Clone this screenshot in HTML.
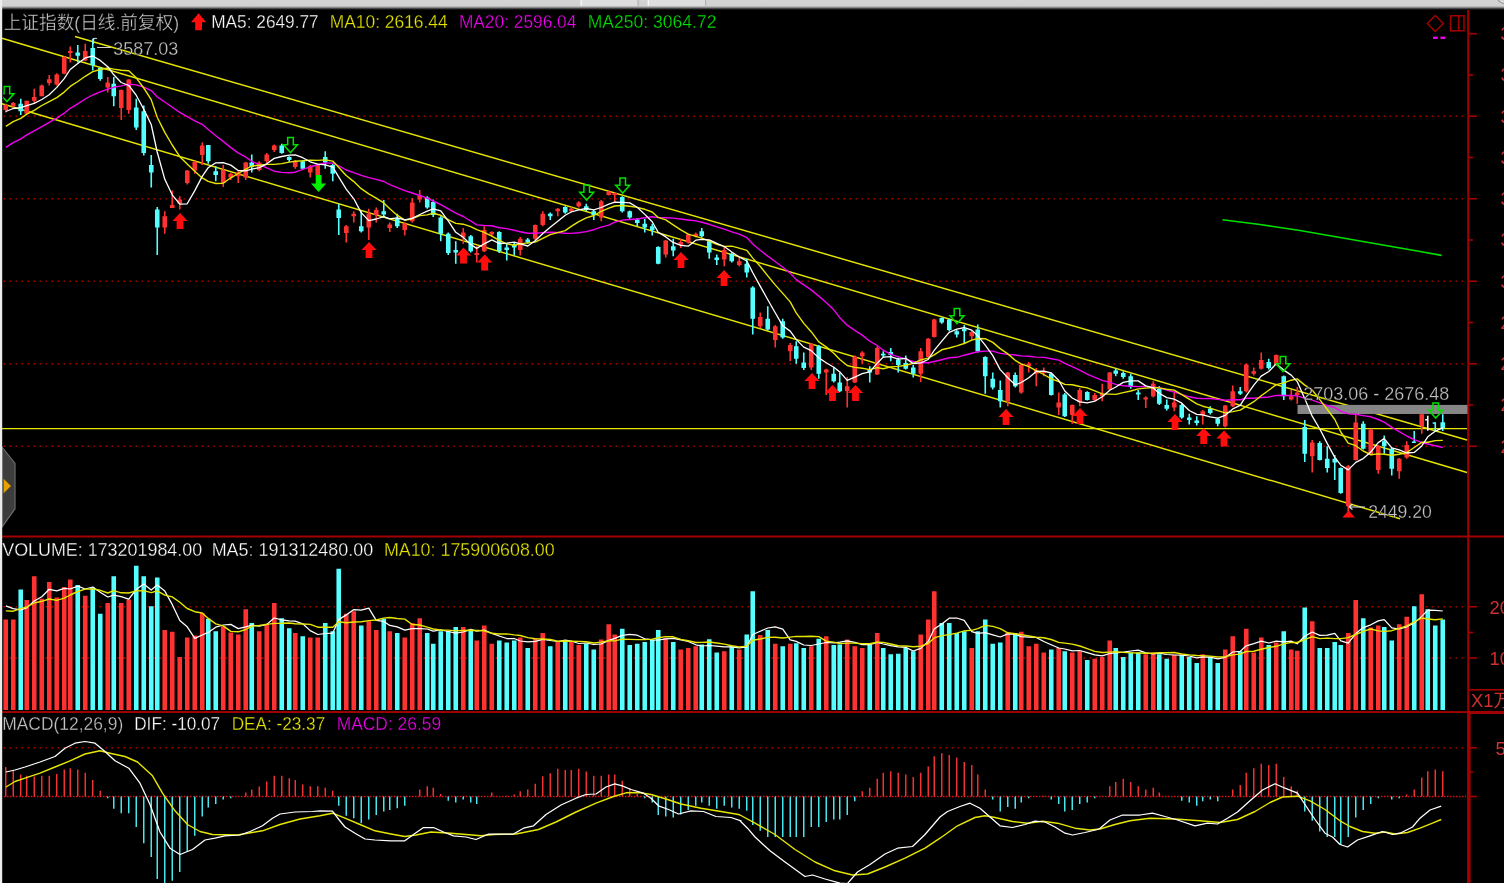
<!DOCTYPE html>
<html lang="zh"><head><meta charset="utf-8"><title>上证指数</title>
<style>html,body{margin:0;padding:0;background:#000;overflow:hidden}svg text{white-space:pre}</style></head>
<body>
<svg width="1504" height="883" viewBox="0 0 1504 883" style="display:block">
<defs><linearGradient id="tg" x1="0" y1="0" x2="0" y2="1"><stop offset="0" stop-color="#d4d4d4"/><stop offset="0.6" stop-color="#d0d0d0"/><stop offset="0.72" stop-color="#9a9a9a"/><stop offset="0.9" stop-color="#2a2a2a"/><stop offset="1" stop-color="#000"/></linearGradient>
<clipPath id="cm"><rect x="2" y="8" width="1465" height="528"/></clipPath>
<clipPath id="cd"><rect x="2" y="712" width="1465" height="171"/></clipPath>
<filter id="bl" filterUnits="userSpaceOnUse" x="-10" y="-10" width="1524" height="903"><feGaussianBlur stdDeviation="0.4"/></filter>
</defs>
<g filter="url(#bl)">
<rect x="-10" y="-10" width="1524" height="903" fill="#000"/>
<line x1="3.5" y1="116.25" x2="1464" y2="116.25" stroke="#aa0000" stroke-width="1.6" stroke-dasharray="1.6 4.4"/>
<line x1="3.5" y1="198.75" x2="1464" y2="198.75" stroke="#aa0000" stroke-width="1.6" stroke-dasharray="1.6 4.4"/>
<line x1="3.5" y1="281.25" x2="1464" y2="281.25" stroke="#aa0000" stroke-width="1.6" stroke-dasharray="1.6 4.4"/>
<line x1="3.5" y1="363.75" x2="1464" y2="363.75" stroke="#aa0000" stroke-width="1.6" stroke-dasharray="1.6 4.4"/>
<line x1="3.5" y1="446.25" x2="1464" y2="446.25" stroke="#aa0000" stroke-width="1.6" stroke-dasharray="1.6 4.4"/>
<line x1="3.5" y1="606.75" x2="1464" y2="606.75" stroke="#aa0000" stroke-width="1.6" stroke-dasharray="1.6 4.4"/>
<line x1="3.5" y1="658" x2="1464" y2="658" stroke="#aa0000" stroke-width="1.6" stroke-dasharray="1.6 4.4"/>
<line x1="3.5" y1="747.75" x2="1464" y2="747.75" stroke="#aa0000" stroke-width="1.6" stroke-dasharray="1.6 4.4"/>
<line x1="4" y1="796.5" x2="1466" y2="796.5" stroke="#d01818" stroke-width="1.5" stroke-dasharray="1.5 1.5"/>
<rect x="1467.2" y="8" width="2" height="885" fill="#a20000"/>
<rect x="2" y="535.5" width="1512" height="2" fill="#a20000"/>
<rect x="2" y="711.1" width="1512" height="1.9" fill="#a20000"/>
<rect x="1469" y="711.1" width="45" height="2.9" fill="#a20000"/>
<rect x="1467.2" y="712" width="3.4" height="181" fill="#a20000"/>
<rect x="1469" y="32.95" width="8" height="1.6" fill="#a20000"/>
<rect x="1469" y="74.2" width="4" height="1.6" fill="#a20000"/>
<rect x="1469" y="115.45" width="8" height="1.6" fill="#a20000"/>
<rect x="1469" y="156.7" width="4" height="1.6" fill="#a20000"/>
<rect x="1469" y="197.95" width="8" height="1.6" fill="#a20000"/>
<rect x="1469" y="239.2" width="4" height="1.6" fill="#a20000"/>
<rect x="1469" y="280.45" width="8" height="1.6" fill="#a20000"/>
<rect x="1469" y="321.7" width="4" height="1.6" fill="#a20000"/>
<rect x="1469" y="362.95" width="8" height="1.6" fill="#a20000"/>
<rect x="1469" y="404.2" width="4" height="1.6" fill="#a20000"/>
<rect x="1469" y="445.45" width="8" height="1.6" fill="#a20000"/>
<rect x="1469" y="605.95" width="8" height="1.6" fill="#a20000"/>
<rect x="1469" y="631.7" width="4" height="1.6" fill="#a20000"/>
<rect x="1469" y="657.2" width="8" height="1.6" fill="#a20000"/>
<rect x="1469" y="746.95" width="8" height="1.6" fill="#a20000"/>
<rect x="1469" y="771.2" width="4" height="1.6" fill="#a20000"/>
<rect x="1469" y="795.7" width="8" height="1.6" fill="#a20000"/>
<rect x="1469" y="689" width="45" height="1.6" fill="#a20000"/>
<text x="1471" y="706.8" font-family="Liberation Sans, Noto Sans CJK SC, sans-serif" font-size="18.4" fill="#cc3030">X1万</text>
<text x="1489.5" y="613.5" font-family="Liberation Sans, Noto Sans CJK SC, sans-serif" font-size="18.4" fill="#cc3030">20</text>
<text x="1489.5" y="664.5" font-family="Liberation Sans, Noto Sans CJK SC, sans-serif" font-size="18.4" fill="#cc3030">10</text>
<text x="1495.5" y="754.5" font-family="Liberation Sans, Noto Sans CJK SC, sans-serif" font-size="18.4" fill="#cc3030">50</text>
<text x="1500.5" y="40.05" font-family="Liberation Sans, Noto Sans CJK SC, sans-serif" font-size="18.4" fill="#cc3030">3600</text>
<text x="1500.5" y="81.3" font-family="Liberation Sans, Noto Sans CJK SC, sans-serif" font-size="18.4" fill="#cc3030">3500</text>
<text x="1500.5" y="122.55" font-family="Liberation Sans, Noto Sans CJK SC, sans-serif" font-size="18.4" fill="#cc3030">3400</text>
<text x="1500.5" y="163.8" font-family="Liberation Sans, Noto Sans CJK SC, sans-serif" font-size="18.4" fill="#cc3030">3300</text>
<text x="1500.5" y="205.05" font-family="Liberation Sans, Noto Sans CJK SC, sans-serif" font-size="18.4" fill="#cc3030">3200</text>
<text x="1500.5" y="246.3" font-family="Liberation Sans, Noto Sans CJK SC, sans-serif" font-size="18.4" fill="#cc3030">3100</text>
<text x="1500.5" y="287.55" font-family="Liberation Sans, Noto Sans CJK SC, sans-serif" font-size="18.4" fill="#cc3030">3000</text>
<text x="1500.5" y="328.8" font-family="Liberation Sans, Noto Sans CJK SC, sans-serif" font-size="18.4" fill="#cc3030">2900</text>
<text x="1500.5" y="370.05" font-family="Liberation Sans, Noto Sans CJK SC, sans-serif" font-size="18.4" fill="#cc3030">2800</text>
<text x="1500.5" y="411.3" font-family="Liberation Sans, Noto Sans CJK SC, sans-serif" font-size="18.4" fill="#cc3030">2700</text>
<text x="1500.5" y="452.55" font-family="Liberation Sans, Noto Sans CJK SC, sans-serif" font-size="18.4" fill="#cc3030">2600</text>
<line x1="75" y1="36.5" x2="1467" y2="440" stroke="#e6e600" stroke-width="1.45"/>
<line x1="2" y1="38.3" x2="1467" y2="472.5" stroke="#e6e600" stroke-width="1.45"/>
<line x1="2" y1="103.8" x2="1400" y2="518.8" stroke="#e6e600" stroke-width="1.45"/>
<line x1="2" y1="428.6" x2="1467" y2="428.6" stroke="#e6e600" stroke-width="1.45"/>
<rect x="1297.5" y="404.9" width="170" height="9.1" fill="#868686"/>
<g clip-path="url(#cm)"><rect x="4.95" y="103.75" width="1.6" height="8.75" fill="#ff3232"/><rect x="3.45" y="105.00" width="4.6" height="5.00" fill="#ff3232"/><rect x="12.45" y="102.00" width="1.6" height="5.50" fill="#ff3232"/><rect x="10.95" y="103.00" width="4.6" height="3.25" fill="#ff3232"/><rect x="19.95" y="98.75" width="1.6" height="16.25" fill="#54ffff"/><rect x="18.45" y="103.75" width="4.6" height="7.50" fill="#54ffff"/><rect x="25.95" y="100.75" width="1.6" height="13.75" fill="#ff3232"/><rect x="24.45" y="100.75" width="4.6" height="13.00" fill="#ff3232"/><rect x="33.45" y="88.75" width="1.6" height="15.00" fill="#ff3232"/><rect x="31.95" y="97.00" width="4.6" height="3.75" fill="#ff3232"/><rect x="40.95" y="84.50" width="1.6" height="11.75" fill="#ff3232"/><rect x="39.45" y="85.50" width="4.6" height="10.75" fill="#ff3232"/><rect x="48.45" y="75.00" width="1.6" height="10.50" fill="#ff3232"/><rect x="46.95" y="79.25" width="4.6" height="3.75" fill="#ff3232"/><rect x="55.95" y="73.25" width="1.6" height="12.25" fill="#ff3232"/><rect x="54.45" y="74.50" width="4.6" height="10.00" fill="#ff3232"/><rect x="63.45" y="56.25" width="1.6" height="18.00" fill="#ff3232"/><rect x="61.95" y="57.00" width="4.6" height="16.75" fill="#ff3232"/><rect x="69.45" y="46.50" width="1.6" height="16.00" fill="#ff3232"/><rect x="67.95" y="51.00" width="4.6" height="2.00" fill="#ff3232"/><rect x="76.95" y="45.00" width="1.6" height="17.50" fill="#54ffff"/><rect x="75.45" y="52.50" width="4.6" height="3.25" fill="#54ffff"/><rect x="84.45" y="43.75" width="1.6" height="17.50" fill="#ff3232"/><rect x="82.95" y="51.00" width="4.6" height="9.50" fill="#ff3232"/><rect x="91.95" y="38.75" width="1.6" height="31.75" fill="#54ffff"/><rect x="90.45" y="48.00" width="4.6" height="17.00" fill="#54ffff"/><rect x="99.45" y="67.50" width="1.6" height="13.25" fill="#54ffff"/><rect x="97.95" y="68.00" width="4.6" height="11.00" fill="#54ffff"/><rect x="106.95" y="77.00" width="1.6" height="15.50" fill="#ff3232"/><rect x="105.45" y="82.50" width="4.6" height="5.00" fill="#ff3232"/><rect x="112.95" y="77.00" width="1.6" height="29.25" fill="#54ffff"/><rect x="111.45" y="83.75" width="4.6" height="12.50" fill="#54ffff"/><rect x="120.45" y="89.50" width="1.6" height="30.50" fill="#ff3232"/><rect x="118.95" y="90.00" width="4.6" height="18.00" fill="#ff3232"/><rect x="127.95" y="79.25" width="1.6" height="34.50" fill="#ff3232"/><rect x="126.45" y="79.50" width="4.6" height="30.50" fill="#ff3232"/><rect x="135.45" y="98.75" width="1.6" height="31.25" fill="#54ffff"/><rect x="133.95" y="107.50" width="4.6" height="20.00" fill="#54ffff"/><rect x="142.95" y="105.50" width="1.6" height="50.00" fill="#54ffff"/><rect x="141.45" y="111.25" width="4.6" height="41.75" fill="#54ffff"/><rect x="150.45" y="155.00" width="1.6" height="32.50" fill="#54ffff"/><rect x="148.95" y="165.00" width="4.6" height="7.50" fill="#54ffff"/><rect x="156.45" y="207.00" width="1.6" height="48.00" fill="#54ffff"/><rect x="154.95" y="209.50" width="4.6" height="18.00" fill="#54ffff"/><rect x="163.95" y="211.25" width="1.6" height="22.50" fill="#ff3232"/><rect x="162.45" y="216.25" width="4.6" height="11.25" fill="#ff3232"/><rect x="171.45" y="190.50" width="1.6" height="17.50" fill="#ff3232"/><rect x="169.95" y="205.00" width="4.6" height="3.00" fill="#ff3232"/><rect x="178.95" y="196.25" width="1.6" height="13.25" fill="#ff3232"/><rect x="177.45" y="199.50" width="4.6" height="4.25" fill="#ff3232"/><rect x="186.45" y="170.00" width="1.6" height="14.50" fill="#ff3232"/><rect x="184.95" y="170.50" width="4.6" height="12.50" fill="#ff3232"/><rect x="193.95" y="161.25" width="1.6" height="12.50" fill="#ff3232"/><rect x="192.45" y="161.75" width="4.6" height="8.75" fill="#ff3232"/><rect x="201.45" y="142.50" width="1.6" height="22.50" fill="#ff3232"/><rect x="199.95" y="145.50" width="4.6" height="9.50" fill="#ff3232"/><rect x="207.45" y="145.00" width="1.6" height="18.75" fill="#54ffff"/><rect x="205.95" y="145.00" width="4.6" height="16.25" fill="#54ffff"/><rect x="214.95" y="166.25" width="1.6" height="15.00" fill="#54ffff"/><rect x="213.45" y="171.25" width="4.6" height="3.75" fill="#54ffff"/><rect x="222.45" y="165.00" width="1.6" height="22.00" fill="#ff3232"/><rect x="220.95" y="170.00" width="4.6" height="13.00" fill="#ff3232"/><rect x="229.95" y="173.00" width="1.6" height="7.00" fill="#ff3232"/><rect x="228.45" y="173.75" width="4.6" height="3.75" fill="#ff3232"/><rect x="237.45" y="171.25" width="1.6" height="11.75" fill="#ff3232"/><rect x="235.95" y="172.50" width="4.6" height="3.75" fill="#ff3232"/><rect x="244.95" y="162.00" width="1.6" height="18.00" fill="#ff3232"/><rect x="243.45" y="162.50" width="4.6" height="15.00" fill="#ff3232"/><rect x="250.95" y="154.50" width="1.6" height="18.00" fill="#54ffff"/><rect x="249.45" y="162.50" width="4.6" height="4.50" fill="#54ffff"/><rect x="258.45" y="161.25" width="1.6" height="10.00" fill="#ff3232"/><rect x="256.95" y="162.50" width="4.6" height="7.50" fill="#ff3232"/><rect x="265.95" y="153.00" width="1.6" height="10.75" fill="#ff3232"/><rect x="264.45" y="154.50" width="4.6" height="6.75" fill="#ff3232"/><rect x="273.45" y="144.50" width="1.6" height="7.50" fill="#ff3232"/><rect x="271.95" y="145.50" width="4.6" height="4.50" fill="#ff3232"/><rect x="280.95" y="143.75" width="1.6" height="10.00" fill="#54ffff"/><rect x="279.45" y="145.50" width="4.6" height="7.50" fill="#54ffff"/><rect x="288.45" y="156.25" width="1.6" height="5.75" fill="#54ffff"/><rect x="286.95" y="157.00" width="4.6" height="3.00" fill="#54ffff"/><rect x="294.45" y="160.00" width="1.6" height="8.75" fill="#ff3232"/><rect x="292.95" y="161.25" width="4.6" height="5.75" fill="#ff3232"/><rect x="301.95" y="160.00" width="1.6" height="10.00" fill="#54ffff"/><rect x="300.45" y="161.25" width="4.6" height="7.50" fill="#54ffff"/><rect x="309.45" y="165.00" width="1.6" height="12.50" fill="#ff3232"/><rect x="307.95" y="166.25" width="4.6" height="6.25" fill="#ff3232"/><rect x="316.95" y="163.75" width="1.6" height="13.75" fill="#ff3232"/><rect x="315.45" y="165.00" width="4.6" height="10.00" fill="#ff3232"/><rect x="324.45" y="151.25" width="1.6" height="17.50" fill="#54ffff"/><rect x="322.95" y="157.00" width="4.6" height="5.50" fill="#54ffff"/><rect x="331.95" y="163.75" width="1.6" height="17.50" fill="#54ffff"/><rect x="330.45" y="165.00" width="4.6" height="8.75" fill="#54ffff"/><rect x="337.95" y="203.75" width="1.6" height="31.25" fill="#54ffff"/><rect x="336.45" y="209.50" width="4.6" height="8.50" fill="#54ffff"/><rect x="345.45" y="225.00" width="1.6" height="17.50" fill="#ff3232"/><rect x="343.95" y="226.25" width="4.6" height="6.75" fill="#ff3232"/><rect x="352.95" y="211.25" width="1.6" height="11.25" fill="#ff3232"/><rect x="351.45" y="213.75" width="4.6" height="2.50" fill="#ff3232"/><rect x="360.45" y="211.25" width="1.6" height="21.25" fill="#54ffff"/><rect x="358.95" y="226.25" width="4.6" height="5.00" fill="#54ffff"/><rect x="367.95" y="208.75" width="1.6" height="31.25" fill="#ff3232"/><rect x="366.45" y="213.75" width="4.6" height="13.75" fill="#ff3232"/><rect x="375.45" y="207.50" width="1.6" height="15.00" fill="#ff3232"/><rect x="373.95" y="210.00" width="4.6" height="5.00" fill="#ff3232"/><rect x="382.95" y="200.00" width="1.6" height="16.25" fill="#54ffff"/><rect x="381.45" y="211.25" width="4.6" height="3.25" fill="#54ffff"/><rect x="388.95" y="222.50" width="1.6" height="9.50" fill="#ff3232"/><rect x="387.45" y="224.50" width="4.6" height="3.50" fill="#ff3232"/><rect x="396.45" y="213.75" width="1.6" height="14.25" fill="#54ffff"/><rect x="394.95" y="218.75" width="4.6" height="7.50" fill="#54ffff"/><rect x="403.95" y="222.50" width="1.6" height="13.00" fill="#ff3232"/><rect x="402.45" y="223.75" width="4.6" height="6.25" fill="#ff3232"/><rect x="411.45" y="198.00" width="1.6" height="24.50" fill="#ff3232"/><rect x="409.95" y="202.50" width="4.6" height="18.75" fill="#ff3232"/><rect x="418.95" y="190.00" width="1.6" height="12.50" fill="#ff3232"/><rect x="417.45" y="195.50" width="4.6" height="4.00" fill="#ff3232"/><rect x="426.45" y="196.25" width="1.6" height="12.50" fill="#54ffff"/><rect x="424.95" y="197.50" width="4.6" height="10.00" fill="#54ffff"/><rect x="432.45" y="199.50" width="1.6" height="17.50" fill="#54ffff"/><rect x="430.95" y="202.00" width="4.6" height="13.00" fill="#54ffff"/><rect x="439.95" y="216.25" width="1.6" height="25.00" fill="#54ffff"/><rect x="438.45" y="217.50" width="4.6" height="16.25" fill="#54ffff"/><rect x="447.45" y="232.50" width="1.6" height="22.50" fill="#54ffff"/><rect x="445.95" y="233.75" width="4.6" height="19.25" fill="#54ffff"/><rect x="454.95" y="241.25" width="1.6" height="22.50" fill="#54ffff"/><rect x="453.45" y="250.00" width="4.6" height="2.50" fill="#54ffff"/><rect x="462.45" y="228.00" width="1.6" height="15.75" fill="#ff3232"/><rect x="460.95" y="232.50" width="4.6" height="5.00" fill="#ff3232"/><rect x="469.95" y="235.00" width="1.6" height="17.50" fill="#54ffff"/><rect x="468.45" y="236.25" width="4.6" height="15.00" fill="#54ffff"/><rect x="475.95" y="246.25" width="1.6" height="16.25" fill="#ff3232"/><rect x="474.45" y="253.00" width="4.6" height="2.00" fill="#ff3232"/><rect x="483.45" y="226.25" width="1.6" height="25.75" fill="#ff3232"/><rect x="481.95" y="230.00" width="4.6" height="21.25" fill="#ff3232"/><rect x="490.95" y="231.25" width="1.6" height="5.00" fill="#ff3232"/><rect x="489.45" y="232.00" width="4.6" height="2.50" fill="#ff3232"/><rect x="498.45" y="231.25" width="1.6" height="21.75" fill="#54ffff"/><rect x="496.95" y="232.00" width="4.6" height="19.25" fill="#54ffff"/><rect x="505.95" y="243.75" width="1.6" height="16.75" fill="#54ffff"/><rect x="504.45" y="247.50" width="4.6" height="2.50" fill="#54ffff"/><rect x="513.45" y="242.50" width="1.6" height="13.00" fill="#54ffff"/><rect x="511.95" y="244.50" width="4.6" height="3.00" fill="#54ffff"/><rect x="519.45" y="237.00" width="1.6" height="18.50" fill="#ff3232"/><rect x="517.95" y="238.75" width="4.6" height="11.25" fill="#ff3232"/><rect x="526.95" y="238.00" width="1.6" height="5.75" fill="#54ffff"/><rect x="525.45" y="239.50" width="4.6" height="3.00" fill="#54ffff"/><rect x="534.45" y="224.50" width="1.6" height="15.50" fill="#ff3232"/><rect x="532.95" y="225.00" width="4.6" height="13.75" fill="#ff3232"/><rect x="541.95" y="211.25" width="1.6" height="15.00" fill="#ff3232"/><rect x="540.45" y="213.75" width="4.6" height="11.25" fill="#ff3232"/><rect x="549.45" y="212.50" width="1.6" height="7.50" fill="#54ffff"/><rect x="547.95" y="213.75" width="4.6" height="2.50" fill="#54ffff"/><rect x="556.95" y="208.00" width="1.6" height="8.25" fill="#ff3232"/><rect x="555.45" y="208.75" width="4.6" height="2.50" fill="#ff3232"/><rect x="564.45" y="206.25" width="1.6" height="7.50" fill="#54ffff"/><rect x="562.95" y="207.00" width="4.6" height="5.50" fill="#54ffff"/><rect x="570.45" y="207.00" width="1.6" height="5.50" fill="#ff3232"/><rect x="568.95" y="208.75" width="4.6" height="2.50" fill="#ff3232"/><rect x="577.95" y="201.25" width="1.6" height="6.25" fill="#ff3232"/><rect x="576.45" y="202.50" width="4.6" height="3.75" fill="#ff3232"/><rect x="585.45" y="203.75" width="1.6" height="7.50" fill="#54ffff"/><rect x="583.95" y="206.25" width="4.6" height="3.75" fill="#54ffff"/><rect x="592.95" y="210.00" width="1.6" height="10.00" fill="#54ffff"/><rect x="591.45" y="211.25" width="4.6" height="3.75" fill="#54ffff"/><rect x="600.45" y="200.00" width="1.6" height="21.25" fill="#ff3232"/><rect x="598.95" y="201.25" width="4.6" height="16.25" fill="#ff3232"/><rect x="607.95" y="190.75" width="1.6" height="4.75" fill="#ff3232"/><rect x="606.45" y="191.75" width="4.6" height="3.25" fill="#ff3232"/><rect x="613.95" y="192.50" width="1.6" height="10.00" fill="#ff3232"/><rect x="612.45" y="193.00" width="4.6" height="2.00" fill="#ff3232"/><rect x="621.45" y="196.25" width="1.6" height="16.25" fill="#54ffff"/><rect x="619.95" y="197.00" width="4.6" height="14.25" fill="#54ffff"/><rect x="628.95" y="210.50" width="1.6" height="8.25" fill="#54ffff"/><rect x="627.45" y="211.25" width="4.6" height="6.25" fill="#54ffff"/><rect x="636.45" y="218.00" width="1.6" height="8.25" fill="#54ffff"/><rect x="634.95" y="219.50" width="4.6" height="3.50" fill="#54ffff"/><rect x="643.95" y="218.75" width="1.6" height="13.75" fill="#54ffff"/><rect x="642.45" y="223.75" width="4.6" height="3.75" fill="#54ffff"/><rect x="651.45" y="223.75" width="1.6" height="11.75" fill="#54ffff"/><rect x="649.95" y="226.25" width="4.6" height="3.75" fill="#54ffff"/><rect x="657.45" y="246.25" width="1.6" height="18.00" fill="#54ffff"/><rect x="655.95" y="247.00" width="4.6" height="16.75" fill="#54ffff"/><rect x="664.95" y="240.00" width="1.6" height="17.50" fill="#ff3232"/><rect x="663.45" y="240.50" width="4.6" height="14.00" fill="#ff3232"/><rect x="672.45" y="238.75" width="1.6" height="17.50" fill="#54ffff"/><rect x="670.95" y="246.25" width="4.6" height="4.25" fill="#54ffff"/><rect x="679.95" y="238.75" width="1.6" height="9.25" fill="#ff3232"/><rect x="678.45" y="242.00" width="4.6" height="3.00" fill="#ff3232"/><rect x="687.45" y="233.75" width="1.6" height="10.00" fill="#ff3232"/><rect x="685.95" y="234.50" width="4.6" height="8.00" fill="#ff3232"/><rect x="694.95" y="232.50" width="1.6" height="5.00" fill="#ff3232"/><rect x="693.45" y="233.75" width="4.6" height="2.50" fill="#ff3232"/><rect x="700.95" y="228.00" width="1.6" height="9.50" fill="#54ffff"/><rect x="699.45" y="231.25" width="4.6" height="5.00" fill="#54ffff"/><rect x="708.45" y="240.00" width="1.6" height="18.75" fill="#54ffff"/><rect x="706.95" y="241.25" width="4.6" height="11.25" fill="#54ffff"/><rect x="715.95" y="254.50" width="1.6" height="10.50" fill="#54ffff"/><rect x="714.45" y="257.50" width="4.6" height="2.50" fill="#54ffff"/><rect x="723.45" y="246.25" width="1.6" height="20.00" fill="#ff3232"/><rect x="721.95" y="250.00" width="4.6" height="9.50" fill="#ff3232"/><rect x="730.95" y="252.50" width="1.6" height="10.00" fill="#54ffff"/><rect x="729.45" y="253.75" width="4.6" height="7.50" fill="#54ffff"/><rect x="738.45" y="257.50" width="1.6" height="8.75" fill="#ff3232"/><rect x="736.95" y="261.25" width="4.6" height="3.75" fill="#ff3232"/><rect x="745.95" y="258.75" width="1.6" height="18.75" fill="#54ffff"/><rect x="744.45" y="263.75" width="4.6" height="8.75" fill="#54ffff"/><rect x="751.95" y="286.25" width="1.6" height="48.25" fill="#54ffff"/><rect x="750.45" y="287.50" width="4.6" height="31.25" fill="#54ffff"/><rect x="759.45" y="312.50" width="1.6" height="15.50" fill="#ff3232"/><rect x="757.95" y="317.00" width="4.6" height="9.25" fill="#ff3232"/><rect x="766.95" y="306.25" width="1.6" height="24.25" fill="#54ffff"/><rect x="765.45" y="318.75" width="4.6" height="10.75" fill="#54ffff"/><rect x="774.45" y="325.00" width="1.6" height="22.50" fill="#ff3232"/><rect x="772.95" y="326.25" width="4.6" height="13.75" fill="#ff3232"/><rect x="781.95" y="318.75" width="1.6" height="20.00" fill="#54ffff"/><rect x="780.45" y="321.25" width="4.6" height="16.25" fill="#54ffff"/><rect x="789.45" y="343.00" width="1.6" height="18.25" fill="#ff3232"/><rect x="787.95" y="345.00" width="4.6" height="6.25" fill="#ff3232"/><rect x="795.45" y="341.25" width="1.6" height="22.50" fill="#54ffff"/><rect x="793.95" y="346.25" width="4.6" height="12.50" fill="#54ffff"/><rect x="802.95" y="352.50" width="1.6" height="17.50" fill="#54ffff"/><rect x="801.45" y="362.50" width="4.6" height="5.50" fill="#54ffff"/><rect x="810.45" y="343.00" width="1.6" height="27.00" fill="#ff3232"/><rect x="808.95" y="343.75" width="4.6" height="23.75" fill="#ff3232"/><rect x="817.95" y="345.00" width="1.6" height="33.75" fill="#54ffff"/><rect x="816.45" y="346.25" width="4.6" height="27.50" fill="#54ffff"/><rect x="825.45" y="368.75" width="1.6" height="26.25" fill="#ff3232"/><rect x="823.95" y="369.50" width="4.6" height="3.00" fill="#ff3232"/><rect x="832.95" y="367.00" width="1.6" height="15.50" fill="#54ffff"/><rect x="831.45" y="373.75" width="4.6" height="7.50" fill="#54ffff"/><rect x="838.95" y="372.50" width="1.6" height="19.50" fill="#54ffff"/><rect x="837.45" y="382.50" width="4.6" height="8.75" fill="#54ffff"/><rect x="846.45" y="377.00" width="1.6" height="30.50" fill="#ff3232"/><rect x="844.95" y="386.25" width="4.6" height="5.00" fill="#ff3232"/><rect x="853.95" y="355.50" width="1.6" height="27.50" fill="#ff3232"/><rect x="852.45" y="357.00" width="4.6" height="25.50" fill="#ff3232"/><rect x="861.45" y="351.25" width="1.6" height="12.50" fill="#ff3232"/><rect x="859.95" y="352.50" width="4.6" height="3.75" fill="#ff3232"/><rect x="868.95" y="366.25" width="1.6" height="16.25" fill="#54ffff"/><rect x="867.45" y="370.00" width="4.6" height="2.50" fill="#54ffff"/><rect x="876.45" y="346.25" width="1.6" height="28.75" fill="#ff3232"/><rect x="874.95" y="348.00" width="4.6" height="26.50" fill="#ff3232"/><rect x="882.45" y="351.25" width="1.6" height="6.25" fill="#54ffff"/><rect x="880.95" y="353.75" width="4.6" height="1.75" fill="#54ffff"/><rect x="889.95" y="348.00" width="1.6" height="13.25" fill="#54ffff"/><rect x="888.45" y="352.00" width="4.6" height="3.00" fill="#54ffff"/><rect x="897.45" y="357.50" width="1.6" height="15.00" fill="#54ffff"/><rect x="895.95" y="359.50" width="4.6" height="5.50" fill="#54ffff"/><rect x="904.95" y="355.50" width="1.6" height="14.00" fill="#54ffff"/><rect x="903.45" y="363.00" width="4.6" height="5.75" fill="#54ffff"/><rect x="912.45" y="365.00" width="1.6" height="12.50" fill="#54ffff"/><rect x="910.95" y="367.50" width="4.6" height="6.25" fill="#54ffff"/><rect x="919.95" y="348.00" width="1.6" height="34.00" fill="#ff3232"/><rect x="918.45" y="351.25" width="4.6" height="22.50" fill="#ff3232"/><rect x="927.45" y="338.00" width="1.6" height="19.50" fill="#ff3232"/><rect x="925.95" y="338.75" width="4.6" height="18.25" fill="#ff3232"/><rect x="933.45" y="318.75" width="1.6" height="18.75" fill="#ff3232"/><rect x="931.95" y="319.50" width="4.6" height="17.50" fill="#ff3232"/><rect x="940.95" y="317.50" width="1.6" height="6.25" fill="#54ffff"/><rect x="939.45" y="318.00" width="4.6" height="4.50" fill="#54ffff"/><rect x="948.45" y="318.75" width="1.6" height="12.50" fill="#54ffff"/><rect x="946.95" y="319.50" width="4.6" height="10.50" fill="#54ffff"/><rect x="955.95" y="330.00" width="1.6" height="7.50" fill="#54ffff"/><rect x="954.45" y="331.25" width="4.6" height="3.25" fill="#54ffff"/><rect x="963.45" y="325.00" width="1.6" height="18.00" fill="#54ffff"/><rect x="961.95" y="328.75" width="4.6" height="2.50" fill="#54ffff"/><rect x="970.95" y="330.50" width="1.6" height="9.50" fill="#ff3232"/><rect x="969.45" y="332.00" width="4.6" height="4.25" fill="#ff3232"/><rect x="976.95" y="324.50" width="1.6" height="28.00" fill="#54ffff"/><rect x="975.45" y="329.50" width="4.6" height="21.75" fill="#54ffff"/><rect x="984.45" y="356.25" width="1.6" height="37.50" fill="#54ffff"/><rect x="982.95" y="357.00" width="4.6" height="19.25" fill="#54ffff"/><rect x="991.95" y="372.50" width="1.6" height="17.00" fill="#54ffff"/><rect x="990.45" y="378.75" width="4.6" height="8.75" fill="#54ffff"/><rect x="999.45" y="380.50" width="1.6" height="27.00" fill="#54ffff"/><rect x="997.95" y="390.00" width="4.6" height="11.25" fill="#54ffff"/><rect x="1006.95" y="372.00" width="1.6" height="34.25" fill="#ff3232"/><rect x="1005.45" y="372.50" width="4.6" height="28.75" fill="#ff3232"/><rect x="1014.45" y="372.50" width="1.6" height="15.00" fill="#54ffff"/><rect x="1012.95" y="375.00" width="4.6" height="11.25" fill="#54ffff"/><rect x="1020.45" y="363.75" width="1.6" height="30.00" fill="#ff3232"/><rect x="1018.95" y="365.00" width="4.6" height="27.50" fill="#ff3232"/><rect x="1027.95" y="362.00" width="1.6" height="10.50" fill="#ff3232"/><rect x="1026.45" y="363.75" width="4.6" height="2.50" fill="#ff3232"/><rect x="1035.45" y="368.00" width="1.6" height="18.25" fill="#ff3232"/><rect x="1033.95" y="370.00" width="4.6" height="3.75" fill="#ff3232"/><rect x="1042.95" y="367.50" width="1.6" height="8.75" fill="#ff3232"/><rect x="1041.45" y="371.25" width="4.6" height="1.75" fill="#ff3232"/><rect x="1050.45" y="372.50" width="1.6" height="23.00" fill="#54ffff"/><rect x="1048.95" y="373.75" width="4.6" height="21.25" fill="#54ffff"/><rect x="1057.95" y="392.50" width="1.6" height="22.50" fill="#ff3232"/><rect x="1056.45" y="402.50" width="4.6" height="5.00" fill="#ff3232"/><rect x="1063.95" y="393.00" width="1.6" height="24.00" fill="#54ffff"/><rect x="1062.45" y="394.50" width="4.6" height="21.75" fill="#54ffff"/><rect x="1071.45" y="404.50" width="1.6" height="19.25" fill="#ff3232"/><rect x="1069.95" y="405.00" width="4.6" height="10.00" fill="#ff3232"/><rect x="1078.95" y="388.00" width="1.6" height="18.25" fill="#ff3232"/><rect x="1077.45" y="390.00" width="4.6" height="12.50" fill="#ff3232"/><rect x="1086.45" y="391.25" width="1.6" height="9.25" fill="#54ffff"/><rect x="1084.95" y="392.00" width="4.6" height="8.00" fill="#54ffff"/><rect x="1093.95" y="393.00" width="1.6" height="8.25" fill="#ff3232"/><rect x="1092.45" y="395.00" width="4.6" height="5.00" fill="#ff3232"/><rect x="1101.45" y="383.75" width="1.6" height="17.50" fill="#ff3232"/><rect x="1099.95" y="393.75" width="4.6" height="2.50" fill="#ff3232"/><rect x="1108.95" y="372.00" width="1.6" height="18.00" fill="#ff3232"/><rect x="1107.45" y="372.50" width="4.6" height="17.00" fill="#ff3232"/><rect x="1114.95" y="368.75" width="1.6" height="7.50" fill="#54ffff"/><rect x="1113.45" y="370.50" width="4.6" height="3.25" fill="#54ffff"/><rect x="1122.45" y="371.25" width="1.6" height="7.50" fill="#54ffff"/><rect x="1120.95" y="373.00" width="4.6" height="4.00" fill="#54ffff"/><rect x="1129.95" y="373.75" width="1.6" height="15.00" fill="#54ffff"/><rect x="1128.45" y="376.25" width="4.6" height="10.75" fill="#54ffff"/><rect x="1137.45" y="390.00" width="1.6" height="10.00" fill="#54ffff"/><rect x="1135.95" y="392.50" width="4.6" height="2.00" fill="#54ffff"/><rect x="1144.95" y="396.25" width="1.6" height="11.75" fill="#ff3232"/><rect x="1143.45" y="397.50" width="4.6" height="2.00" fill="#ff3232"/><rect x="1152.45" y="381.25" width="1.6" height="16.25" fill="#ff3232"/><rect x="1150.95" y="383.75" width="4.6" height="12.50" fill="#ff3232"/><rect x="1158.45" y="386.25" width="1.6" height="18.75" fill="#54ffff"/><rect x="1156.95" y="388.75" width="4.6" height="15.00" fill="#54ffff"/><rect x="1165.95" y="399.50" width="1.6" height="11.00" fill="#54ffff"/><rect x="1164.45" y="405.00" width="4.6" height="3.75" fill="#54ffff"/><rect x="1173.45" y="392.50" width="1.6" height="18.75" fill="#ff3232"/><rect x="1171.95" y="402.50" width="4.6" height="5.00" fill="#ff3232"/><rect x="1180.95" y="403.75" width="1.6" height="15.00" fill="#54ffff"/><rect x="1179.45" y="405.00" width="4.6" height="12.50" fill="#54ffff"/><rect x="1188.45" y="413.75" width="1.6" height="10.75" fill="#54ffff"/><rect x="1186.95" y="417.50" width="4.6" height="2.50" fill="#54ffff"/><rect x="1195.95" y="416.25" width="1.6" height="9.25" fill="#54ffff"/><rect x="1194.45" y="420.50" width="4.6" height="2.50" fill="#54ffff"/><rect x="1201.95" y="410.00" width="1.6" height="14.50" fill="#ff3232"/><rect x="1200.45" y="411.25" width="4.6" height="3.75" fill="#ff3232"/><rect x="1209.45" y="406.25" width="1.6" height="8.25" fill="#54ffff"/><rect x="1207.95" y="408.75" width="4.6" height="4.25" fill="#54ffff"/><rect x="1216.95" y="418.00" width="1.6" height="8.25" fill="#54ffff"/><rect x="1215.45" y="418.75" width="4.6" height="5.00" fill="#54ffff"/><rect x="1224.45" y="405.00" width="1.6" height="22.50" fill="#ff3232"/><rect x="1222.95" y="405.50" width="4.6" height="20.75" fill="#ff3232"/><rect x="1231.95" y="385.50" width="1.6" height="21.50" fill="#ff3232"/><rect x="1230.45" y="391.25" width="4.6" height="15.00" fill="#ff3232"/><rect x="1239.45" y="387.00" width="1.6" height="8.00" fill="#54ffff"/><rect x="1237.95" y="391.25" width="4.6" height="2.50" fill="#54ffff"/><rect x="1245.45" y="363.75" width="1.6" height="28.75" fill="#ff3232"/><rect x="1243.95" y="364.50" width="4.6" height="26.75" fill="#ff3232"/><rect x="1252.95" y="367.50" width="1.6" height="8.00" fill="#ff3232"/><rect x="1251.45" y="371.25" width="4.6" height="2.50" fill="#ff3232"/><rect x="1260.45" y="352.50" width="1.6" height="17.00" fill="#ff3232"/><rect x="1258.95" y="360.00" width="4.6" height="8.75" fill="#ff3232"/><rect x="1267.95" y="358.75" width="1.6" height="10.75" fill="#54ffff"/><rect x="1266.45" y="362.00" width="4.6" height="6.00" fill="#54ffff"/><rect x="1275.45" y="354.50" width="1.6" height="11.00" fill="#ff3232"/><rect x="1273.95" y="355.00" width="4.6" height="10.00" fill="#ff3232"/><rect x="1282.95" y="375.50" width="1.6" height="24.50" fill="#54ffff"/><rect x="1281.45" y="376.25" width="4.6" height="20.00" fill="#54ffff"/><rect x="1290.45" y="390.00" width="1.6" height="10.50" fill="#ff3232"/><rect x="1288.95" y="396.25" width="4.6" height="3.25" fill="#ff3232"/><rect x="1296.45" y="387.00" width="1.6" height="16.75" fill="#ff3232"/><rect x="1294.95" y="392.50" width="4.6" height="2.50" fill="#ff3232"/><rect x="1303.95" y="420.00" width="1.6" height="42.00" fill="#54ffff"/><rect x="1302.45" y="427.00" width="4.6" height="26.75" fill="#54ffff"/><rect x="1311.45" y="440.00" width="1.6" height="32.50" fill="#ff3232"/><rect x="1309.95" y="442.50" width="4.6" height="13.75" fill="#ff3232"/><rect x="1318.95" y="441.25" width="1.6" height="19.25" fill="#54ffff"/><rect x="1317.45" y="443.00" width="4.6" height="17.00" fill="#54ffff"/><rect x="1326.45" y="446.25" width="1.6" height="26.25" fill="#54ffff"/><rect x="1324.95" y="458.75" width="4.6" height="9.25" fill="#54ffff"/><rect x="1333.95" y="455.00" width="1.6" height="25.00" fill="#54ffff"/><rect x="1332.45" y="458.75" width="4.6" height="3.75" fill="#54ffff"/><rect x="1339.95" y="467.50" width="1.6" height="26.25" fill="#54ffff"/><rect x="1338.45" y="468.00" width="4.6" height="25.00" fill="#54ffff"/><rect x="1347.45" y="465.00" width="1.6" height="48.75" fill="#ff3232"/><rect x="1345.95" y="466.25" width="4.6" height="40.00" fill="#ff3232"/><rect x="1354.95" y="414.50" width="1.6" height="46.00" fill="#ff3232"/><rect x="1353.45" y="422.50" width="4.6" height="37.50" fill="#ff3232"/><rect x="1362.45" y="421.25" width="1.6" height="28.25" fill="#54ffff"/><rect x="1360.95" y="423.75" width="4.6" height="25.00" fill="#54ffff"/><rect x="1369.95" y="428.75" width="1.6" height="26.75" fill="#ff3232"/><rect x="1368.45" y="429.50" width="4.6" height="25.50" fill="#ff3232"/><rect x="1377.45" y="445.00" width="1.6" height="28.75" fill="#ff3232"/><rect x="1375.95" y="446.25" width="4.6" height="23.75" fill="#ff3232"/><rect x="1383.45" y="435.50" width="1.6" height="18.25" fill="#54ffff"/><rect x="1381.95" y="441.25" width="4.6" height="5.00" fill="#54ffff"/><rect x="1390.95" y="447.50" width="1.6" height="28.00" fill="#54ffff"/><rect x="1389.45" y="448.75" width="4.6" height="20.00" fill="#54ffff"/><rect x="1398.45" y="458.00" width="1.6" height="20.75" fill="#ff3232"/><rect x="1396.95" y="458.75" width="4.6" height="12.50" fill="#ff3232"/><rect x="1405.95" y="441.25" width="1.6" height="17.50" fill="#ff3232"/><rect x="1404.45" y="445.00" width="4.6" height="12.50" fill="#ff3232"/><rect x="1413.45" y="431.00" width="1.6" height="12.00" fill="#54ffff"/><rect x="1411.85" y="441.50" width="4" height="1.5" fill="#54ffff"/><rect x="1420.95" y="414.20" width="1.6" height="19.50" fill="#ff3232"/><rect x="1419.45" y="414.20" width="4.6" height="12.00" fill="#ff3232"/><rect x="1426.95" y="415.70" width="1.6" height="15.00" fill="#ffffff"/><rect x="1425.15" y="419.00" width="2.6" height="1.5" fill="#ffffff"/><rect x="1434.45" y="422.30" width="1.6" height="9.30" fill="#54ffff"/><rect x="1432.65" y="422.30" width="2.6" height="1.5" fill="#54ffff"/><rect x="1441.95" y="414.20" width="1.6" height="16.80" fill="#54ffff"/><rect x="1440.45" y="422.30" width="4.6" height="5.70" fill="#54ffff"/></g>
<polyline fill="none" stroke="#f000f0" stroke-width="1.4" stroke-linejoin="round" clip-path="url(#cm)" points="5.8,147.3 13.2,142.7 20.8,138.8 26.8,134.8 34.2,130.8 41.8,126.6 49.2,122.3 56.8,118.1 64.2,113.2 70.2,108.3 77.8,103.9 85.2,99.0 92.8,95.0 100.2,91.9 107.8,89.2 113.8,87.3 121.2,85.9 128.8,84.1 136.2,84.9 143.8,87.2 151.2,90.6 157.2,96.8 164.8,102.0 172.2,107.2 179.8,112.4 187.2,116.6 194.8,120.8 202.2,124.3 208.2,129.5 215.8,135.7 223.2,141.4 230.8,147.6 238.2,152.9 245.8,157.1 251.8,161.3 259.2,164.7 266.8,167.9 274.2,171.2 281.8,172.4 289.2,172.8 295.2,172.2 302.8,169.3 310.2,166.8 317.8,164.8 325.2,162.9 332.8,163.1 338.8,165.9 346.2,170.0 353.8,172.6 361.2,175.4 368.8,177.6 376.2,179.4 383.8,181.5 389.8,184.6 397.2,187.6 404.8,190.6 412.2,193.0 419.8,195.5 427.2,198.2 433.2,201.0 440.8,204.6 448.2,208.8 455.8,213.2 463.2,216.5 470.8,221.0 476.8,224.9 484.2,225.5 491.8,225.8 499.2,227.7 506.8,228.6 514.2,230.3 520.2,231.8 527.8,233.2 535.2,233.2 542.8,232.6 550.2,232.2 557.8,232.5 565.2,233.3 571.2,233.4 578.8,232.8 586.2,231.6 593.8,229.7 601.2,227.1 608.8,225.1 614.8,222.2 622.2,220.1 629.8,219.5 637.2,219.0 644.8,217.8 652.2,216.8 658.2,217.6 665.8,217.7 673.2,218.1 680.8,219.0 688.2,220.0 695.8,220.9 701.8,222.3 709.2,224.3 716.8,226.8 724.2,229.2 731.8,231.8 739.2,234.1 746.8,237.6 752.8,244.0 760.2,250.2 767.8,256.1 775.2,261.5 782.8,267.3 790.2,273.1 796.2,279.6 803.8,284.8 811.2,289.9 818.8,296.1 826.2,302.5 833.8,309.8 839.8,317.7 847.2,325.2 854.8,330.4 862.2,335.1 869.8,341.2 877.2,345.5 883.2,350.2 890.8,354.4 898.2,356.7 905.8,359.2 913.2,361.5 920.8,362.7 928.2,362.8 934.2,361.5 941.8,359.7 949.2,357.8 956.8,357.3 964.2,355.2 971.8,353.3 977.8,351.8 985.2,351.1 992.8,351.1 1000.2,353.4 1007.8,354.4 1015.2,355.0 1021.2,355.9 1028.8,356.3 1036.2,357.1 1043.8,357.4 1051.2,358.7 1058.8,360.1 1064.8,363.4 1072.2,366.7 1079.8,370.2 1087.2,374.1 1094.8,377.3 1102.2,380.3 1109.8,382.4 1115.8,384.4 1123.2,385.7 1130.8,386.3 1138.2,386.6 1145.8,386.4 1153.2,387.0 1159.2,387.9 1166.8,390.1 1174.2,392.0 1181.8,394.4 1189.2,396.8 1196.8,398.2 1202.8,398.6 1210.2,398.5 1217.8,399.4 1225.2,400.2 1232.8,399.8 1240.2,399.7 1246.2,398.2 1253.8,398.2 1261.2,397.5 1268.8,397.0 1276.2,395.4 1283.8,395.5 1291.2,395.4 1297.2,395.9 1304.8,398.4 1312.2,400.1 1319.8,402.9 1327.2,405.5 1334.8,407.6 1340.8,411.1 1348.2,413.9 1355.8,414.3 1363.2,415.6 1370.8,416.8 1378.2,419.5 1384.2,422.1 1391.8,427.4 1399.2,431.7 1406.8,436.0 1414.2,439.7 1421.8,442.7 1427.8,444.0 1435.2,445.8 1442.8,447.5"/>
<polyline fill="none" stroke="#e6e600" stroke-width="1.4" stroke-linejoin="round" clip-path="url(#cm)" points="5.8,126.4 13.2,121.7 20.8,118.3 26.8,114.2 34.2,110.3 41.8,105.5 49.2,101.6 56.8,97.6 64.2,92.1 70.2,86.4 77.8,81.5 85.2,76.3 92.8,71.7 100.2,69.5 107.8,68.0 113.8,69.1 121.2,70.2 128.8,70.7 136.2,77.8 143.8,88.0 151.2,99.6 157.2,117.3 164.8,132.4 172.2,145.0 179.8,156.7 187.2,164.1 194.8,171.3 202.2,177.9 208.2,181.3 215.8,183.5 223.2,183.2 230.8,177.8 238.2,173.5 245.8,169.2 251.8,166.0 259.2,165.2 266.8,164.4 274.2,164.4 281.8,163.6 289.2,162.1 295.2,161.2 302.8,160.8 310.2,160.1 317.8,160.4 325.2,159.9 332.8,161.1 338.8,167.4 346.2,175.5 353.8,181.6 361.2,188.7 368.8,193.9 376.2,198.1 383.8,202.9 389.8,208.8 397.2,215.2 404.8,220.2 412.2,218.7 419.8,215.6 427.2,214.9 433.2,213.3 440.8,215.3 448.2,219.6 455.8,223.4 463.2,224.2 470.8,226.7 476.8,229.7 484.2,232.4 491.8,236.1 499.2,240.4 506.8,243.9 514.2,245.3 520.2,243.9 527.8,242.9 535.2,242.1 542.8,238.4 550.2,234.7 557.8,232.6 565.2,230.6 571.2,226.4 578.8,221.6 586.2,217.9 593.8,215.5 601.2,211.4 608.8,208.1 614.8,206.0 622.2,205.5 629.8,206.3 637.2,207.4 644.8,209.3 652.2,212.0 658.2,217.4 665.8,219.9 673.2,224.9 680.8,229.9 688.2,234.1 695.8,236.3 701.8,238.2 709.2,241.1 716.8,244.4 724.2,246.4 731.8,246.1 739.2,248.2 746.8,250.4 752.8,258.1 760.2,266.3 767.8,275.9 775.2,284.9 782.8,293.4 790.2,301.9 796.2,312.8 803.8,323.4 811.2,331.7 818.8,341.8 826.2,346.9 833.8,353.3 839.8,359.5 847.2,365.5 854.8,367.4 862.2,368.2 869.8,369.6 877.2,367.6 883.2,368.8 890.8,366.9 898.2,366.4 905.8,365.2 913.2,363.4 920.8,359.9 928.2,358.1 934.2,354.8 941.8,349.8 949.2,348.0 956.8,345.9 964.2,343.5 971.8,340.2 977.8,338.5 985.2,338.7 992.8,342.4 1000.2,348.6 1007.8,353.9 1015.2,360.3 1021.2,363.8 1028.8,366.7 1036.2,370.6 1043.8,374.5 1051.2,378.9 1058.8,381.5 1064.8,384.4 1072.2,384.8 1079.8,386.5 1087.2,387.9 1094.8,390.9 1102.2,393.9 1109.8,394.1 1115.8,394.4 1123.2,392.6 1130.8,391.0 1138.2,388.9 1145.8,388.1 1153.2,387.5 1159.2,387.9 1166.8,389.2 1174.2,390.1 1181.8,394.6 1189.2,399.2 1196.8,403.8 1202.8,406.2 1210.2,408.1 1217.8,410.7 1225.2,412.9 1232.8,411.6 1240.2,410.1 1246.2,406.4 1253.8,401.7 1261.2,395.7 1268.8,390.2 1276.2,384.6 1283.8,382.9 1291.2,380.2 1297.2,378.9 1304.8,385.1 1312.2,390.0 1319.8,399.6 1327.2,409.2 1334.8,419.5 1340.8,432.0 1348.2,443.1 1355.8,445.7 1363.2,451.0 1370.8,454.7 1378.2,453.9 1384.2,454.3 1391.8,455.2 1399.2,454.2 1406.8,452.5 1414.2,447.5 1421.8,442.3 1427.8,442.3 1435.2,440.6 1442.8,440.4"/>
<polyline fill="none" stroke="#ffffff" stroke-width="1.3" stroke-linejoin="round" clip-path="url(#cm)" points="5.8,111.5 13.2,108.5 20.8,107.7 26.8,105.6 34.2,103.4 41.8,99.5 49.2,94.8 56.8,87.4 64.2,78.7 70.2,69.5 77.8,63.5 85.2,57.9 92.8,56.0 100.2,60.4 107.8,66.7 113.8,74.8 121.2,82.5 128.8,85.5 136.2,95.2 143.8,109.2 151.2,124.5 157.2,152.0 164.8,179.3 172.2,194.8 179.8,204.2 187.2,203.8 194.8,190.6 202.2,176.4 208.2,167.7 215.8,162.8 223.2,162.7 230.8,165.1 238.2,170.5 245.8,170.8 251.8,169.2 259.2,167.7 266.8,163.8 274.2,158.4 281.8,156.5 289.2,155.1 295.2,154.8 302.8,157.7 310.2,161.8 317.8,164.2 325.2,164.8 332.8,167.2 338.8,177.1 346.2,189.1 353.8,198.8 361.2,212.6 368.8,220.6 376.2,219.0 383.8,216.7 389.8,218.8 397.2,217.8 404.8,219.8 412.2,218.3 419.8,214.5 427.2,211.1 433.2,208.8 440.8,210.8 448.2,220.9 455.8,232.3 463.2,237.3 470.8,244.6 476.8,248.4 484.2,243.8 491.8,239.8 499.2,243.5 506.8,243.2 514.2,242.2 520.2,243.9 527.8,246.0 535.2,240.8 542.8,233.5 550.2,227.2 557.8,221.2 565.2,215.2 571.2,212.0 578.8,209.8 586.2,208.5 593.8,209.8 601.2,207.5 608.8,204.1 614.8,202.2 622.2,202.4 629.8,202.9 637.2,207.3 644.8,214.4 652.2,221.8 658.2,232.3 665.8,236.9 673.2,242.4 680.8,245.3 688.2,246.2 695.8,240.2 701.8,239.4 709.2,239.8 716.8,243.4 724.2,246.5 731.8,252.0 739.2,257.0 746.8,261.0 752.8,272.8 760.2,286.1 767.8,299.8 775.2,312.8 782.8,325.8 790.2,331.1 796.2,339.4 803.8,347.1 811.2,350.6 818.8,357.9 826.2,362.8 833.8,367.2 839.8,371.9 847.2,380.4 854.8,377.1 862.2,373.6 869.8,371.9 877.2,363.2 883.2,357.1 890.8,356.7 898.2,359.2 905.8,358.4 913.2,363.6 920.8,362.8 928.2,359.5 934.2,350.4 941.8,341.1 949.2,332.4 956.8,329.1 964.2,327.6 971.8,330.1 977.8,335.8 985.2,345.1 992.8,355.6 1000.2,369.6 1007.8,377.8 1015.2,384.8 1021.2,382.5 1028.8,377.8 1036.2,371.5 1043.8,371.2 1051.2,373.0 1058.8,380.5 1064.8,391.0 1072.2,398.0 1079.8,401.8 1087.2,402.8 1094.8,401.2 1102.2,396.8 1109.8,390.2 1115.8,387.0 1123.2,382.4 1130.8,380.8 1138.2,380.9 1145.8,385.9 1153.2,387.9 1159.2,393.3 1166.8,397.6 1174.2,399.2 1181.8,403.2 1189.2,410.5 1196.8,414.4 1202.8,414.9 1210.2,416.9 1217.8,418.2 1225.2,415.3 1232.8,408.9 1240.2,405.4 1246.2,395.8 1253.8,385.2 1261.2,376.1 1268.8,371.5 1276.2,363.8 1283.8,370.1 1291.2,375.1 1297.2,381.6 1304.8,398.8 1312.2,416.2 1319.8,429.0 1327.2,443.4 1334.8,457.4 1340.8,465.2 1348.2,469.9 1355.8,462.4 1363.2,458.6 1370.8,452.0 1378.2,442.6 1384.2,438.6 1391.8,447.9 1399.2,449.9 1406.8,453.0 1414.2,452.4 1421.8,445.9 1427.8,436.8 1435.2,431.2 1442.8,427.8"/>
<polyline fill="none" stroke="#00e000" stroke-width="1.6" stroke-linejoin="round"  points="1222.5,219.8 1260.0,224.5 1300.0,230.5 1340.0,237.5 1380.0,244.5 1420.0,251.5 1441.6,255.4"/>
<path d="M180,213 l7.6,8 h-4.2 v8 h-6.8 v-8 h-4.2 z" fill="#ff1010"/>
<path d="M369,242 l7.6,8 h-4.2 v8 h-6.8 v-8 h-4.2 z" fill="#ff1010"/>
<path d="M463.5,247.5 l7.6,8 h-4.2 v8 h-6.8 v-8 h-4.2 z" fill="#ff1010"/>
<path d="M484.7,254.5 l7.6,8 h-4.2 v8 h-6.8 v-8 h-4.2 z" fill="#ff1010"/>
<path d="M681,252 l7.6,8 h-4.2 v8 h-6.8 v-8 h-4.2 z" fill="#ff1010"/>
<path d="M724,270 l7.6,8 h-4.2 v8 h-6.8 v-8 h-4.2 z" fill="#ff1010"/>
<path d="M812,373 l7.6,8 h-4.2 v8 h-6.8 v-8 h-4.2 z" fill="#ff1010"/>
<path d="M832.5,385 l7.6,8 h-4.2 v8 h-6.8 v-8 h-4.2 z" fill="#ff1010"/>
<path d="M855.5,385 l7.6,8 h-4.2 v8 h-6.8 v-8 h-4.2 z" fill="#ff1010"/>
<path d="M1006,409 l7.6,8 h-4.2 v8 h-6.8 v-8 h-4.2 z" fill="#ff1010"/>
<path d="M1080,408 l7.6,8 h-4.2 v8 h-6.8 v-8 h-4.2 z" fill="#ff1010"/>
<path d="M1175,414 l7.6,8 h-4.2 v8 h-6.8 v-8 h-4.2 z" fill="#ff1010"/>
<path d="M1203.7,428 l7.6,8 h-4.2 v8 h-6.8 v-8 h-4.2 z" fill="#ff1010"/>
<path d="M1224,430.5 l7.6,8 h-4.2 v8 h-6.8 v-8 h-4.2 z" fill="#ff1010"/>
<clipPath id="cl"><rect x="3.3" y="80" width="20" height="30"/></clipPath>
<g clip-path="url(#cl)">
<path d="M4.1000000000000005,86.4 h5.6 v7.4 h4.2 l-7,7.8 l-7,-7.8 h4.2 z" fill="none" stroke="#00e000" stroke-width="1.5"/>
</g>
<path d="M287.7,137.4 h5.6 v7.4 h4.2 l-7,7.8 l-7,-7.8 h4.2 z" fill="none" stroke="#00e000" stroke-width="1.5"/>
<path d="M583.9000000000001,184.9 h5.6 v7.4 h4.2 l-7,7.8 l-7,-7.8 h4.2 z" fill="none" stroke="#00e000" stroke-width="1.5"/>
<path d="M619.9000000000001,177.9 h5.6 v7.4 h4.2 l-7,7.8 l-7,-7.8 h4.2 z" fill="none" stroke="#00e000" stroke-width="1.5"/>
<path d="M954.2,308.4 h5.6 v7.4 h4.2 l-7,7.8 l-7,-7.8 h4.2 z" fill="none" stroke="#00e000" stroke-width="1.5"/>
<path d="M1280.2,356.4 h5.6 v7.4 h4.2 l-7,7.8 l-7,-7.8 h4.2 z" fill="none" stroke="#00e000" stroke-width="1.5"/>
<path d="M1432.9,402.9 h5.6 v7.4 h4.2 l-7,7.8 l-7,-7.8 h4.2 z" fill="none" stroke="#00e000" stroke-width="1.5"/>
<path d="M315.70000000000005,175 h5.8 v8.4 h4.7 l-7.6,8.7 l-7.6,-8.7 h4.7 z" fill="#00f000"/>
<path d="M1348.7,510.5 l6.3,7 h-12.6 z" fill="#ff1010"/>
<path d="M1349,507 l3.5,-3 M1349,507 l3.5,2.5 M1349,507 h16" stroke="#e0e0e0" stroke-width="1.2" fill="none"/>
<path d="M93,40.5 q1,-3 4,-2 M93.5,38 v6 M97,47.5 h14" stroke="#d0d0d0" stroke-width="1.2" fill="none"/>
<text x="113.2" y="54.6" font-family="Liberation Sans, Noto Sans CJK SC, sans-serif" font-size="18.4" fill="#c4c4c4" stroke="#000" stroke-width="0.3" paint-order="fill stroke" textLength="65.0" lengthAdjust="spacingAndGlyphs">3587.03</text>
<text x="1303.2" y="400.1" font-family="Liberation Sans, Noto Sans CJK SC, sans-serif" font-size="18.4" fill="#c4c4c4" stroke="#000" stroke-width="0.3" paint-order="fill stroke" textLength="146.0" lengthAdjust="spacingAndGlyphs">2703.06 - 2676.48</text>
<text x="1368.2" y="518.1" font-family="Liberation Sans, Noto Sans CJK SC, sans-serif" font-size="18.4" fill="#c4c4c4" stroke="#000" stroke-width="0.3" paint-order="fill stroke" textLength="63.5" lengthAdjust="spacingAndGlyphs">2449.20</text>
<text x="3.7" y="28.6" font-family="Liberation Sans, Noto Sans CJK SC, sans-serif" font-size="18.4" fill="#c4c4c4" stroke="#000" stroke-width="0.3" paint-order="fill stroke" textLength="175.5" lengthAdjust="spacingAndGlyphs">上证指数(日线.前复权)</text>
<path d="M198.6,13.2 l7.6,9 h-4.2 v8 h-6.8 v-8 h-4.2 z" fill="#ff1010"/>
<text x="211.2" y="28.1" font-family="Liberation Sans, Noto Sans CJK SC, sans-serif" font-size="18.4" fill="#ffffff" stroke="#000" stroke-width="0.3" paint-order="fill stroke" textLength="107.5" lengthAdjust="spacingAndGlyphs">MA5: 2649.77</text>
<text x="329.7" y="28.1" font-family="Liberation Sans, Noto Sans CJK SC, sans-serif" font-size="18.4" fill="#e6e600" stroke="#000" stroke-width="0.3" paint-order="fill stroke" textLength="118.0" lengthAdjust="spacingAndGlyphs">MA10: 2616.44</text>
<text x="458.9" y="28.1" font-family="Liberation Sans, Noto Sans CJK SC, sans-serif" font-size="18.4" fill="#f000f0" stroke="#000" stroke-width="0.3" paint-order="fill stroke" textLength="117.5" lengthAdjust="spacingAndGlyphs">MA20: 2596.04</text>
<text x="587.7" y="28.1" font-family="Liberation Sans, Noto Sans CJK SC, sans-serif" font-size="18.4" fill="#00e400" stroke="#000" stroke-width="0.3" paint-order="fill stroke" textLength="128.7" lengthAdjust="spacingAndGlyphs">MA250: 3064.72</text>
<text x="2.2" y="555.6" font-family="Liberation Sans, Noto Sans CJK SC, sans-serif" font-size="18.4" fill="#ffffff" stroke="#000" stroke-width="0.3" paint-order="fill stroke" textLength="200.0" lengthAdjust="spacingAndGlyphs">VOLUME: 173201984.00</text>
<text x="211.7" y="555.6" font-family="Liberation Sans, Noto Sans CJK SC, sans-serif" font-size="18.4" fill="#ffffff" stroke="#000" stroke-width="0.3" paint-order="fill stroke" textLength="161.5" lengthAdjust="spacingAndGlyphs">MA5: 191312480.00</text>
<text x="383.9" y="555.6" font-family="Liberation Sans, Noto Sans CJK SC, sans-serif" font-size="18.4" fill="#e6e600" stroke="#000" stroke-width="0.3" paint-order="fill stroke" textLength="170.8" lengthAdjust="spacingAndGlyphs">MA10: 175900608.00</text>
<text x="2.2" y="730.1" font-family="Liberation Sans, Noto Sans CJK SC, sans-serif" font-size="18.4" fill="#c4c4c4" stroke="#000" stroke-width="0.3" paint-order="fill stroke" textLength="121.0" lengthAdjust="spacingAndGlyphs">MACD(12,26,9)</text>
<text x="134.2" y="730.1" font-family="Liberation Sans, Noto Sans CJK SC, sans-serif" font-size="18.4" fill="#ffffff" stroke="#000" stroke-width="0.3" paint-order="fill stroke" textLength="86.0" lengthAdjust="spacingAndGlyphs">DIF: -10.07</text>
<text x="231.7" y="730.1" font-family="Liberation Sans, Noto Sans CJK SC, sans-serif" font-size="18.4" fill="#e6e600" stroke="#000" stroke-width="0.3" paint-order="fill stroke" textLength="93.5" lengthAdjust="spacingAndGlyphs">DEA: -23.37</text>
<text x="336.7" y="730.1" font-family="Liberation Sans, Noto Sans CJK SC, sans-serif" font-size="18.4" fill="#f000f0" stroke="#000" stroke-width="0.3" paint-order="fill stroke" textLength="104.5" lengthAdjust="spacingAndGlyphs">MACD: 26.59</text>
<path d="M1435.3,15.5 l8,8 l-8,8 l-8,-8 z" fill="none" stroke="#a20000" stroke-width="1.5"/>
<rect x="1450.5" y="15.8" width="13.5" height="15" fill="none" stroke="#a20000" stroke-width="1.5"/><line x1="1458.7" y1="15.8" x2="1458.7" y2="30.8" stroke="#a20000" stroke-width="1.5"/>
<rect x="1433" y="36.6" width="4.7" height="2.4" fill="#f000f0"/><rect x="1440.5" y="36.6" width="4.7" height="2.4" fill="#f000f0"/>
<rect x="3.45" y="619.50" width="4.6" height="90.50" fill="#ff3232"/><rect x="10.95" y="619.50" width="4.6" height="90.50" fill="#ff3232"/><rect x="18.45" y="589.50" width="4.6" height="120.50" fill="#54ffff"/><rect x="24.45" y="600.00" width="4.6" height="110.00" fill="#ff3232"/><rect x="31.95" y="576.25" width="4.6" height="133.75" fill="#ff3232"/><rect x="39.45" y="598.75" width="4.6" height="111.25" fill="#ff3232"/><rect x="46.95" y="582.00" width="4.6" height="128.00" fill="#ff3232"/><rect x="54.45" y="597.50" width="4.6" height="112.50" fill="#ff3232"/><rect x="61.95" y="587.00" width="4.6" height="123.00" fill="#ff3232"/><rect x="67.95" y="579.50" width="4.6" height="130.50" fill="#ff3232"/><rect x="75.45" y="585.00" width="4.6" height="125.00" fill="#54ffff"/><rect x="82.95" y="595.75" width="4.6" height="114.25" fill="#ff3232"/><rect x="90.45" y="587.50" width="4.6" height="122.50" fill="#54ffff"/><rect x="97.95" y="613.75" width="4.6" height="96.25" fill="#54ffff"/><rect x="105.45" y="603.00" width="4.6" height="107.00" fill="#ff3232"/><rect x="111.45" y="576.25" width="4.6" height="133.75" fill="#54ffff"/><rect x="118.95" y="603.00" width="4.6" height="107.00" fill="#ff3232"/><rect x="126.45" y="599.50" width="4.6" height="110.50" fill="#ff3232"/><rect x="133.95" y="565.75" width="4.6" height="144.25" fill="#54ffff"/><rect x="141.45" y="576.25" width="4.6" height="133.75" fill="#54ffff"/><rect x="148.95" y="606.25" width="4.6" height="103.75" fill="#54ffff"/><rect x="154.95" y="577.50" width="4.6" height="132.50" fill="#54ffff"/><rect x="162.45" y="630.00" width="4.6" height="80.00" fill="#ff3232"/><rect x="169.95" y="631.75" width="4.6" height="78.25" fill="#ff3232"/><rect x="177.45" y="657.00" width="4.6" height="53.00" fill="#ff3232"/><rect x="184.95" y="637.50" width="4.6" height="72.50" fill="#ff3232"/><rect x="192.45" y="635.50" width="4.6" height="74.50" fill="#ff3232"/><rect x="199.95" y="613.00" width="4.6" height="97.00" fill="#ff3232"/><rect x="205.95" y="618.75" width="4.6" height="91.25" fill="#54ffff"/><rect x="213.45" y="631.25" width="4.6" height="78.75" fill="#54ffff"/><rect x="220.95" y="626.25" width="4.6" height="83.75" fill="#ff3232"/><rect x="228.45" y="632.50" width="4.6" height="77.50" fill="#ff3232"/><rect x="235.95" y="634.50" width="4.6" height="75.50" fill="#ff3232"/><rect x="243.45" y="609.25" width="4.6" height="100.75" fill="#ff3232"/><rect x="249.45" y="623.00" width="4.6" height="87.00" fill="#54ffff"/><rect x="256.95" y="631.25" width="4.6" height="78.75" fill="#ff3232"/><rect x="264.45" y="623.75" width="4.6" height="86.25" fill="#ff3232"/><rect x="271.95" y="603.00" width="4.6" height="107.00" fill="#ff3232"/><rect x="279.45" y="618.25" width="4.6" height="91.75" fill="#54ffff"/><rect x="286.95" y="628.25" width="4.6" height="81.75" fill="#54ffff"/><rect x="292.95" y="633.00" width="4.6" height="77.00" fill="#ff3232"/><rect x="300.45" y="636.25" width="4.6" height="73.75" fill="#54ffff"/><rect x="307.95" y="637.50" width="4.6" height="72.50" fill="#ff3232"/><rect x="315.45" y="637.50" width="4.6" height="72.50" fill="#ff3232"/><rect x="322.95" y="623.00" width="4.6" height="87.00" fill="#54ffff"/><rect x="330.45" y="631.25" width="4.6" height="78.75" fill="#54ffff"/><rect x="336.45" y="568.75" width="4.6" height="141.25" fill="#54ffff"/><rect x="343.95" y="613.75" width="4.6" height="96.25" fill="#ff3232"/><rect x="351.45" y="611.25" width="4.6" height="98.75" fill="#ff3232"/><rect x="358.95" y="625.50" width="4.6" height="84.50" fill="#54ffff"/><rect x="366.45" y="621.25" width="4.6" height="88.75" fill="#ff3232"/><rect x="373.95" y="630.00" width="4.6" height="80.00" fill="#ff3232"/><rect x="381.45" y="618.75" width="4.6" height="91.25" fill="#54ffff"/><rect x="387.45" y="631.25" width="4.6" height="78.75" fill="#ff3232"/><rect x="394.95" y="633.00" width="4.6" height="77.00" fill="#54ffff"/><rect x="402.45" y="637.50" width="4.6" height="72.50" fill="#ff3232"/><rect x="409.95" y="623.00" width="4.6" height="87.00" fill="#ff3232"/><rect x="417.45" y="618.25" width="4.6" height="91.75" fill="#ff3232"/><rect x="424.95" y="633.00" width="4.6" height="77.00" fill="#54ffff"/><rect x="430.95" y="643.75" width="4.6" height="66.25" fill="#54ffff"/><rect x="438.45" y="631.25" width="4.6" height="78.75" fill="#54ffff"/><rect x="445.95" y="631.25" width="4.6" height="78.75" fill="#54ffff"/><rect x="453.45" y="627.00" width="4.6" height="83.00" fill="#54ffff"/><rect x="460.95" y="627.00" width="4.6" height="83.00" fill="#ff3232"/><rect x="468.45" y="630.00" width="4.6" height="80.00" fill="#54ffff"/><rect x="474.45" y="640.50" width="4.6" height="69.50" fill="#ff3232"/><rect x="481.95" y="625.50" width="4.6" height="84.50" fill="#ff3232"/><rect x="489.45" y="643.75" width="4.6" height="66.25" fill="#ff3232"/><rect x="496.95" y="640.50" width="4.6" height="69.50" fill="#54ffff"/><rect x="504.45" y="642.50" width="4.6" height="67.50" fill="#54ffff"/><rect x="511.95" y="640.50" width="4.6" height="69.50" fill="#54ffff"/><rect x="517.95" y="637.50" width="4.6" height="72.50" fill="#ff3232"/><rect x="525.45" y="648.00" width="4.6" height="62.00" fill="#54ffff"/><rect x="532.95" y="638.00" width="4.6" height="72.00" fill="#ff3232"/><rect x="540.45" y="633.00" width="4.6" height="77.00" fill="#ff3232"/><rect x="547.95" y="646.25" width="4.6" height="63.75" fill="#54ffff"/><rect x="555.45" y="642.00" width="4.6" height="68.00" fill="#ff3232"/><rect x="562.95" y="642.00" width="4.6" height="68.00" fill="#54ffff"/><rect x="568.95" y="642.00" width="4.6" height="68.00" fill="#ff3232"/><rect x="576.45" y="645.00" width="4.6" height="65.00" fill="#ff3232"/><rect x="583.95" y="643.75" width="4.6" height="66.25" fill="#54ffff"/><rect x="591.45" y="649.50" width="4.6" height="60.50" fill="#54ffff"/><rect x="598.95" y="639.50" width="4.6" height="70.50" fill="#ff3232"/><rect x="606.45" y="624.25" width="4.6" height="85.75" fill="#ff3232"/><rect x="612.45" y="634.50" width="4.6" height="75.50" fill="#ff3232"/><rect x="619.95" y="628.75" width="4.6" height="81.25" fill="#54ffff"/><rect x="627.45" y="645.00" width="4.6" height="65.00" fill="#54ffff"/><rect x="634.95" y="643.75" width="4.6" height="66.25" fill="#54ffff"/><rect x="642.45" y="642.00" width="4.6" height="68.00" fill="#54ffff"/><rect x="649.95" y="640.00" width="4.6" height="70.00" fill="#54ffff"/><rect x="655.95" y="630.00" width="4.6" height="80.00" fill="#54ffff"/><rect x="663.45" y="638.00" width="4.6" height="72.00" fill="#ff3232"/><rect x="670.95" y="642.00" width="4.6" height="68.00" fill="#54ffff"/><rect x="678.45" y="649.50" width="4.6" height="60.50" fill="#ff3232"/><rect x="685.95" y="648.00" width="4.6" height="62.00" fill="#ff3232"/><rect x="693.45" y="646.25" width="4.6" height="63.75" fill="#ff3232"/><rect x="699.45" y="644.50" width="4.6" height="65.50" fill="#54ffff"/><rect x="706.95" y="639.25" width="4.6" height="70.75" fill="#54ffff"/><rect x="714.45" y="652.50" width="4.6" height="57.50" fill="#54ffff"/><rect x="721.95" y="651.25" width="4.6" height="58.75" fill="#ff3232"/><rect x="729.45" y="646.25" width="4.6" height="63.75" fill="#54ffff"/><rect x="736.95" y="649.50" width="4.6" height="60.50" fill="#ff3232"/><rect x="744.45" y="634.50" width="4.6" height="75.50" fill="#54ffff"/><rect x="750.45" y="591.25" width="4.6" height="118.75" fill="#54ffff"/><rect x="757.95" y="635.00" width="4.6" height="75.00" fill="#ff3232"/><rect x="765.45" y="630.00" width="4.6" height="80.00" fill="#54ffff"/><rect x="772.95" y="643.75" width="4.6" height="66.25" fill="#ff3232"/><rect x="780.45" y="646.25" width="4.6" height="63.75" fill="#54ffff"/><rect x="787.95" y="643.75" width="4.6" height="66.25" fill="#ff3232"/><rect x="793.95" y="643.25" width="4.6" height="66.75" fill="#54ffff"/><rect x="801.45" y="648.00" width="4.6" height="62.00" fill="#54ffff"/><rect x="808.95" y="646.25" width="4.6" height="63.75" fill="#ff3232"/><rect x="816.45" y="638.75" width="4.6" height="71.25" fill="#54ffff"/><rect x="823.95" y="636.25" width="4.6" height="73.75" fill="#ff3232"/><rect x="831.45" y="645.00" width="4.6" height="65.00" fill="#54ffff"/><rect x="837.45" y="644.50" width="4.6" height="65.50" fill="#54ffff"/><rect x="844.95" y="639.50" width="4.6" height="70.50" fill="#ff3232"/><rect x="852.45" y="646.25" width="4.6" height="63.75" fill="#ff3232"/><rect x="859.95" y="648.00" width="4.6" height="62.00" fill="#ff3232"/><rect x="867.45" y="645.00" width="4.6" height="65.00" fill="#54ffff"/><rect x="874.95" y="633.00" width="4.6" height="77.00" fill="#ff3232"/><rect x="880.95" y="648.00" width="4.6" height="62.00" fill="#54ffff"/><rect x="888.45" y="654.25" width="4.6" height="55.75" fill="#54ffff"/><rect x="895.95" y="653.75" width="4.6" height="56.25" fill="#54ffff"/><rect x="903.45" y="648.00" width="4.6" height="62.00" fill="#54ffff"/><rect x="910.95" y="651.25" width="4.6" height="58.75" fill="#54ffff"/><rect x="918.45" y="634.50" width="4.6" height="75.50" fill="#ff3232"/><rect x="925.95" y="619.50" width="4.6" height="90.50" fill="#ff3232"/><rect x="931.95" y="591.25" width="4.6" height="118.75" fill="#ff3232"/><rect x="939.45" y="623.00" width="4.6" height="87.00" fill="#54ffff"/><rect x="946.95" y="623.00" width="4.6" height="87.00" fill="#54ffff"/><rect x="954.45" y="633.00" width="4.6" height="77.00" fill="#54ffff"/><rect x="961.95" y="631.25" width="4.6" height="78.75" fill="#54ffff"/><rect x="969.45" y="648.00" width="4.6" height="62.00" fill="#ff3232"/><rect x="975.45" y="631.25" width="4.6" height="78.75" fill="#54ffff"/><rect x="982.95" y="619.50" width="4.6" height="90.50" fill="#54ffff"/><rect x="990.45" y="643.75" width="4.6" height="66.25" fill="#54ffff"/><rect x="997.95" y="642.50" width="4.6" height="67.50" fill="#54ffff"/><rect x="1005.45" y="632.50" width="4.6" height="77.50" fill="#ff3232"/><rect x="1012.95" y="633.00" width="4.6" height="77.00" fill="#54ffff"/><rect x="1018.95" y="631.75" width="4.6" height="78.25" fill="#ff3232"/><rect x="1026.45" y="646.25" width="4.6" height="63.75" fill="#ff3232"/><rect x="1033.95" y="643.75" width="4.6" height="66.25" fill="#ff3232"/><rect x="1041.45" y="652.50" width="4.6" height="57.50" fill="#ff3232"/><rect x="1048.95" y="649.50" width="4.6" height="60.50" fill="#54ffff"/><rect x="1056.45" y="648.00" width="4.6" height="62.00" fill="#ff3232"/><rect x="1062.45" y="651.25" width="4.6" height="58.75" fill="#54ffff"/><rect x="1069.95" y="652.50" width="4.6" height="57.50" fill="#ff3232"/><rect x="1077.45" y="651.25" width="4.6" height="58.75" fill="#ff3232"/><rect x="1084.95" y="660.00" width="4.6" height="50.00" fill="#54ffff"/><rect x="1092.45" y="658.75" width="4.6" height="51.25" fill="#ff3232"/><rect x="1099.95" y="657.00" width="4.6" height="53.00" fill="#ff3232"/><rect x="1107.45" y="640.50" width="4.6" height="69.50" fill="#ff3232"/><rect x="1113.45" y="648.00" width="4.6" height="62.00" fill="#54ffff"/><rect x="1120.95" y="657.00" width="4.6" height="53.00" fill="#54ffff"/><rect x="1128.45" y="652.50" width="4.6" height="57.50" fill="#54ffff"/><rect x="1135.95" y="652.50" width="4.6" height="57.50" fill="#54ffff"/><rect x="1143.45" y="654.25" width="4.6" height="55.75" fill="#ff3232"/><rect x="1150.95" y="652.50" width="4.6" height="57.50" fill="#ff3232"/><rect x="1156.95" y="654.25" width="4.6" height="55.75" fill="#54ffff"/><rect x="1164.45" y="658.75" width="4.6" height="51.25" fill="#54ffff"/><rect x="1171.95" y="655.00" width="4.6" height="55.00" fill="#ff3232"/><rect x="1179.45" y="655.00" width="4.6" height="55.00" fill="#54ffff"/><rect x="1186.95" y="657.00" width="4.6" height="53.00" fill="#54ffff"/><rect x="1194.45" y="663.00" width="4.6" height="47.00" fill="#54ffff"/><rect x="1200.45" y="654.25" width="4.6" height="55.75" fill="#ff3232"/><rect x="1207.95" y="657.00" width="4.6" height="53.00" fill="#54ffff"/><rect x="1215.45" y="663.00" width="4.6" height="47.00" fill="#54ffff"/><rect x="1222.95" y="649.50" width="4.6" height="60.50" fill="#ff3232"/><rect x="1230.45" y="636.25" width="4.6" height="73.75" fill="#ff3232"/><rect x="1237.95" y="651.25" width="4.6" height="58.75" fill="#54ffff"/><rect x="1243.95" y="628.75" width="4.6" height="81.25" fill="#ff3232"/><rect x="1251.45" y="652.50" width="4.6" height="57.50" fill="#ff3232"/><rect x="1258.95" y="637.50" width="4.6" height="72.50" fill="#ff3232"/><rect x="1266.45" y="645.00" width="4.6" height="65.00" fill="#54ffff"/><rect x="1273.95" y="642.50" width="4.6" height="67.50" fill="#ff3232"/><rect x="1281.45" y="631.25" width="4.6" height="78.75" fill="#54ffff"/><rect x="1288.95" y="649.50" width="4.6" height="60.50" fill="#ff3232"/><rect x="1294.95" y="650.75" width="4.6" height="59.25" fill="#ff3232"/><rect x="1302.45" y="607.50" width="4.6" height="102.50" fill="#54ffff"/><rect x="1309.95" y="621.25" width="4.6" height="88.75" fill="#ff3232"/><rect x="1317.45" y="648.00" width="4.6" height="62.00" fill="#54ffff"/><rect x="1324.95" y="648.00" width="4.6" height="62.00" fill="#54ffff"/><rect x="1332.45" y="642.00" width="4.6" height="68.00" fill="#54ffff"/><rect x="1338.45" y="645.00" width="4.6" height="65.00" fill="#54ffff"/><rect x="1345.95" y="633.00" width="4.6" height="77.00" fill="#ff3232"/><rect x="1353.45" y="600.00" width="4.6" height="110.00" fill="#ff3232"/><rect x="1360.95" y="618.25" width="4.6" height="91.75" fill="#54ffff"/><rect x="1368.45" y="627.50" width="4.6" height="82.50" fill="#ff3232"/><rect x="1375.95" y="625.50" width="4.6" height="84.50" fill="#ff3232"/><rect x="1381.95" y="627.00" width="4.6" height="83.00" fill="#54ffff"/><rect x="1389.45" y="640.50" width="4.6" height="69.50" fill="#54ffff"/><rect x="1396.95" y="624.25" width="4.6" height="85.75" fill="#ff3232"/><rect x="1404.45" y="616.75" width="4.6" height="93.25" fill="#ff3232"/><rect x="1411.95" y="606.25" width="4.6" height="103.75" fill="#54ffff"/><rect x="1419.45" y="594.25" width="4.6" height="115.75" fill="#ff3232"/><rect x="1425.45" y="609.25" width="4.6" height="100.75" fill="#54ffff"/><rect x="1432.95" y="625.50" width="4.6" height="84.50" fill="#54ffff"/><rect x="1440.45" y="619.50" width="4.6" height="90.50" fill="#54ffff"/>
<polyline fill="none" stroke="#ffffff" stroke-width="1.25" stroke-linejoin="round"  points="5.8,605.8 13.2,608.6 20.8,609.9 26.8,607.9 34.2,601.0 41.8,596.8 49.2,589.3 56.8,590.9 64.2,588.3 70.2,589.0 77.8,586.2 85.2,589.0 92.8,587.0 100.2,592.3 107.8,597.0 113.8,595.2 121.2,596.7 128.8,599.1 136.2,589.5 143.8,584.1 151.2,590.1 157.2,585.0 164.8,591.1 172.2,604.4 179.8,620.5 187.2,626.8 194.8,638.4 202.2,635.0 208.2,632.4 215.8,627.2 223.2,625.0 230.8,624.4 238.2,628.6 245.8,626.8 251.8,625.1 259.2,626.1 266.8,624.4 274.2,618.0 281.8,619.9 289.2,620.9 295.2,621.2 302.8,623.8 310.2,630.6 317.8,634.5 325.2,633.5 332.8,633.1 338.8,619.6 346.2,614.9 353.8,609.6 361.2,610.1 368.8,608.1 376.2,620.4 383.8,621.4 389.8,625.4 397.2,626.9 404.8,630.1 412.2,628.7 419.8,628.6 427.2,629.0 433.2,631.1 440.8,629.9 448.2,631.5 455.8,633.2 463.2,632.0 470.8,629.3 476.8,631.1 484.2,630.0 491.8,633.4 499.2,636.0 506.8,638.5 514.2,638.5 520.2,641.0 527.8,641.8 535.2,641.3 542.8,639.4 550.2,640.5 557.8,641.5 565.2,640.2 571.2,641.0 578.8,643.5 586.2,643.0 593.8,644.5 601.2,644.0 608.8,640.4 614.8,638.3 622.2,635.3 629.8,634.4 637.2,635.2 644.8,638.8 652.2,639.9 658.2,640.1 665.8,638.8 673.2,638.4 680.8,639.9 688.2,641.5 695.8,644.8 701.8,646.0 709.2,645.5 716.8,646.1 724.2,646.8 731.8,646.8 739.2,647.8 746.8,646.8 752.8,634.5 760.2,631.3 767.8,628.0 775.2,626.9 782.8,629.2 790.2,639.8 796.2,641.4 803.8,645.0 811.2,645.5 818.8,644.0 826.2,642.5 833.8,642.9 839.8,642.1 847.2,640.8 854.8,642.3 862.2,644.6 869.8,644.6 877.2,642.4 883.2,644.0 890.8,645.6 898.2,646.8 905.8,647.4 913.2,651.0 920.8,648.4 928.2,641.4 934.2,628.9 941.8,623.9 949.2,618.2 956.8,618.0 964.2,620.3 971.8,631.6 977.8,633.3 985.2,632.6 992.8,634.8 1000.2,637.0 1007.8,633.9 1015.2,634.2 1021.2,636.7 1028.8,637.2 1036.2,637.5 1043.8,641.5 1051.2,644.8 1058.8,648.0 1064.8,649.0 1072.2,650.8 1079.8,650.5 1087.2,652.6 1094.8,654.8 1102.2,655.9 1109.8,653.5 1115.8,652.9 1123.2,652.2 1130.8,651.0 1138.2,650.1 1145.8,652.9 1153.2,653.8 1159.2,653.2 1166.8,654.5 1174.2,655.0 1181.8,655.1 1189.2,656.0 1196.8,657.8 1202.8,656.9 1210.2,657.2 1217.8,658.9 1225.2,657.4 1232.8,652.0 1240.2,651.4 1246.2,645.8 1253.8,643.6 1261.2,641.2 1268.8,643.0 1276.2,641.2 1283.8,641.8 1291.2,641.1 1297.2,643.8 1304.8,636.3 1312.2,632.0 1319.8,635.4 1327.2,635.1 1334.8,633.4 1340.8,640.9 1348.2,643.2 1355.8,633.6 1363.2,627.6 1370.8,624.8 1378.2,620.9 1384.2,619.6 1391.8,627.8 1399.2,629.0 1406.8,626.8 1414.2,623.0 1421.8,616.4 1427.8,610.1 1435.2,610.4 1442.8,611.0"/>
<polyline fill="none" stroke="#e6e600" stroke-width="1.4" stroke-linejoin="round"  points="5.8,610.9 13.2,611.2 20.8,608.6 26.8,607.0 34.2,603.0 41.8,601.3 49.2,599.0 56.8,600.4 64.2,598.1 70.2,595.0 77.8,591.5 85.2,589.1 92.8,588.9 100.2,590.3 107.8,593.0 113.8,590.7 121.2,592.8 128.8,593.0 136.2,590.9 143.8,590.6 151.2,592.7 157.2,590.9 164.8,595.1 172.2,596.9 179.8,602.3 187.2,608.5 194.8,611.7 202.2,613.0 208.2,618.4 215.8,623.9 223.2,625.9 230.8,631.4 238.2,631.8 245.8,629.5 251.8,626.1 259.2,625.5 266.8,624.4 274.2,623.4 281.8,623.3 289.2,623.0 295.2,623.7 302.8,624.0 310.2,624.4 317.8,627.2 325.2,627.2 332.8,627.2 338.8,621.7 346.2,622.8 353.8,622.0 361.2,621.8 368.8,620.6 376.2,620.0 383.8,618.1 389.8,617.5 397.2,618.5 404.8,619.1 412.2,624.5 419.8,625.0 427.2,627.1 433.2,629.0 440.8,630.0 448.2,630.1 455.8,630.9 463.2,630.5 470.8,630.2 476.8,630.5 484.2,630.8 491.8,633.3 499.2,634.0 506.8,633.9 514.2,634.9 520.2,635.5 527.8,637.6 535.2,638.7 542.8,639.0 550.2,639.5 557.8,641.2 565.2,641.0 571.2,641.2 578.8,641.4 586.2,641.8 593.8,643.0 601.2,642.1 608.8,640.7 614.8,640.9 622.2,639.1 629.8,639.4 637.2,639.6 644.8,639.6 652.2,639.1 658.2,637.7 665.8,636.6 673.2,636.8 680.8,639.4 688.2,640.7 695.8,642.5 701.8,642.4 709.2,642.0 716.8,643.0 724.2,644.1 731.8,645.8 739.2,646.9 746.8,646.1 752.8,640.3 760.2,639.0 767.8,637.4 775.2,637.3 782.8,638.0 790.2,637.1 796.2,636.4 803.8,636.5 811.2,636.2 818.8,636.6 826.2,641.1 833.8,642.1 839.8,643.6 847.2,643.1 854.8,643.1 862.2,643.6 869.8,643.8 877.2,642.2 883.2,642.4 890.8,644.0 898.2,645.7 905.8,646.0 913.2,646.7 920.8,646.2 928.2,643.5 934.2,637.9 941.8,635.6 949.2,634.6 956.8,633.1 964.2,630.9 971.8,630.3 977.8,628.6 985.2,625.4 992.8,626.4 1000.2,628.6 1007.8,632.8 1015.2,633.8 1021.2,634.6 1028.8,636.0 1036.2,637.2 1043.8,637.7 1051.2,639.5 1058.8,642.4 1064.8,643.1 1072.2,644.1 1079.8,646.0 1087.2,648.7 1094.8,651.4 1102.2,652.5 1109.8,652.1 1115.8,651.7 1123.2,652.4 1130.8,652.9 1138.2,653.0 1145.8,653.2 1153.2,653.3 1159.2,652.7 1166.8,652.7 1174.2,652.5 1181.8,654.0 1189.2,654.9 1196.8,655.5 1202.8,655.6 1210.2,656.1 1217.8,657.0 1225.2,656.7 1232.8,654.9 1240.2,654.1 1246.2,651.5 1253.8,651.2 1261.2,649.3 1268.8,647.5 1276.2,646.3 1283.8,643.8 1291.2,642.4 1297.2,642.5 1304.8,639.6 1312.2,636.6 1319.8,638.6 1327.2,638.1 1334.8,638.6 1340.8,638.6 1348.2,637.6 1355.8,634.5 1363.2,631.4 1370.8,629.0 1378.2,630.9 1384.2,631.4 1391.8,630.7 1399.2,628.3 1406.8,625.8 1414.2,621.9 1421.8,618.0 1427.8,619.0 1435.2,619.7 1442.8,618.9"/>
<g clip-path="url(#cd)"><rect x="5.00" y="767.00" width="1.5" height="29.50" fill="#f03030"/><rect x="12.50" y="770.00" width="1.5" height="26.50" fill="#f03030"/><rect x="20.00" y="774.50" width="1.5" height="22.00" fill="#f03030"/><rect x="26.00" y="775.75" width="1.5" height="20.75" fill="#f03030"/><rect x="33.50" y="776.50" width="1.5" height="20.00" fill="#f03030"/><rect x="41.00" y="775.75" width="1.5" height="20.75" fill="#f03030"/><rect x="48.50" y="775.75" width="1.5" height="20.75" fill="#f03030"/><rect x="56.00" y="774.00" width="1.5" height="22.50" fill="#f03030"/><rect x="63.50" y="769.50" width="1.5" height="27.00" fill="#f03030"/><rect x="69.50" y="768.25" width="1.5" height="28.25" fill="#f03030"/><rect x="77.00" y="769.50" width="1.5" height="27.00" fill="#f03030"/><rect x="84.50" y="772.75" width="1.5" height="23.75" fill="#f03030"/><rect x="92.00" y="780.00" width="1.5" height="16.50" fill="#f03030"/><rect x="99.50" y="790.75" width="1.5" height="5.75" fill="#f03030"/><rect x="107.00" y="796.50" width="1.5" height="1.75" fill="#48e4ec"/><rect x="113.00" y="796.50" width="1.5" height="12.25" fill="#48e4ec"/><rect x="120.50" y="796.50" width="1.5" height="16.75" fill="#48e4ec"/><rect x="128.00" y="796.50" width="1.5" height="16.75" fill="#48e4ec"/><rect x="135.50" y="796.50" width="1.5" height="30.50" fill="#48e4ec"/><rect x="143.00" y="796.50" width="1.5" height="46.75" fill="#48e4ec"/><rect x="150.50" y="796.50" width="1.5" height="60.50" fill="#48e4ec"/><rect x="156.50" y="796.50" width="1.5" height="82.50" fill="#48e4ec"/><rect x="164.00" y="796.50" width="1.5" height="88.50" fill="#48e4ec"/><rect x="171.50" y="796.50" width="1.5" height="84.25" fill="#48e4ec"/><rect x="179.00" y="796.50" width="1.5" height="75.50" fill="#48e4ec"/><rect x="186.50" y="796.50" width="1.5" height="55.50" fill="#48e4ec"/><rect x="194.00" y="796.50" width="1.5" height="39.25" fill="#48e4ec"/><rect x="201.50" y="796.50" width="1.5" height="20.00" fill="#48e4ec"/><rect x="207.50" y="796.50" width="1.5" height="11.00" fill="#48e4ec"/><rect x="215.00" y="796.50" width="1.5" height="7.50" fill="#48e4ec"/><rect x="222.50" y="796.50" width="1.5" height="3.00" fill="#48e4ec"/><rect x="230.00" y="796.50" width="1.5" height="1.75" fill="#48e4ec"/><rect x="245.00" y="792.50" width="1.5" height="4.00" fill="#f03030"/><rect x="251.00" y="789.50" width="1.5" height="7.00" fill="#f03030"/><rect x="258.50" y="786.50" width="1.5" height="10.00" fill="#f03030"/><rect x="266.00" y="781.50" width="1.5" height="15.00" fill="#f03030"/><rect x="273.50" y="775.75" width="1.5" height="20.75" fill="#f03030"/><rect x="281.00" y="775.75" width="1.5" height="20.75" fill="#f03030"/><rect x="288.50" y="778.25" width="1.5" height="18.25" fill="#f03030"/><rect x="294.50" y="780.00" width="1.5" height="16.50" fill="#f03030"/><rect x="302.00" y="784.50" width="1.5" height="12.00" fill="#f03030"/><rect x="309.50" y="786.25" width="1.5" height="10.25" fill="#f03030"/><rect x="317.00" y="786.25" width="1.5" height="10.25" fill="#f03030"/><rect x="324.50" y="787.75" width="1.5" height="8.75" fill="#f03030"/><rect x="332.00" y="790.75" width="1.5" height="5.75" fill="#f03030"/><rect x="338.00" y="796.50" width="1.5" height="9.25" fill="#48e4ec"/><rect x="345.50" y="796.50" width="1.5" height="19.25" fill="#48e4ec"/><rect x="353.00" y="796.50" width="1.5" height="21.75" fill="#48e4ec"/><rect x="360.50" y="796.50" width="1.5" height="26.75" fill="#48e4ec"/><rect x="368.00" y="796.50" width="1.5" height="23.00" fill="#48e4ec"/><rect x="375.50" y="796.50" width="1.5" height="18.50" fill="#48e4ec"/><rect x="383.00" y="796.50" width="1.5" height="15.00" fill="#48e4ec"/><rect x="389.00" y="796.50" width="1.5" height="13.50" fill="#48e4ec"/><rect x="396.50" y="796.50" width="1.5" height="11.75" fill="#48e4ec"/><rect x="404.00" y="796.50" width="1.5" height="9.25" fill="#48e4ec"/><rect x="419.00" y="789.50" width="1.5" height="7.00" fill="#f03030"/><rect x="426.50" y="786.25" width="1.5" height="10.25" fill="#f03030"/><rect x="432.50" y="787.75" width="1.5" height="8.75" fill="#f03030"/><rect x="440.00" y="794.00" width="1.5" height="2.50" fill="#f03030"/><rect x="447.50" y="796.50" width="1.5" height="4.25" fill="#48e4ec"/><rect x="455.00" y="796.50" width="1.5" height="6.00" fill="#48e4ec"/><rect x="462.50" y="796.50" width="1.5" height="3.00" fill="#48e4ec"/><rect x="470.00" y="796.50" width="1.5" height="6.00" fill="#48e4ec"/><rect x="476.00" y="796.50" width="1.5" height="7.50" fill="#48e4ec"/><rect x="491.00" y="792.50" width="1.5" height="4.00" fill="#f03030"/><rect x="506.00" y="795.75" width="1.5" height="0.75" fill="#f03030"/><rect x="513.50" y="794.50" width="1.5" height="2.00" fill="#f03030"/><rect x="519.50" y="791.25" width="1.5" height="5.25" fill="#f03030"/><rect x="527.00" y="789.50" width="1.5" height="7.00" fill="#f03030"/><rect x="534.50" y="783.75" width="1.5" height="12.75" fill="#f03030"/><rect x="542.00" y="776.25" width="1.5" height="20.25" fill="#f03030"/><rect x="549.50" y="773.25" width="1.5" height="23.25" fill="#f03030"/><rect x="557.00" y="768.75" width="1.5" height="27.75" fill="#f03030"/><rect x="564.50" y="770.00" width="1.5" height="26.50" fill="#f03030"/><rect x="570.50" y="770.00" width="1.5" height="26.50" fill="#f03030"/><rect x="578.00" y="768.75" width="1.5" height="27.75" fill="#f03030"/><rect x="585.50" y="771.50" width="1.5" height="25.00" fill="#f03030"/><rect x="593.00" y="775.75" width="1.5" height="20.75" fill="#f03030"/><rect x="600.50" y="775.75" width="1.5" height="20.75" fill="#f03030"/><rect x="608.00" y="774.50" width="1.5" height="22.00" fill="#f03030"/><rect x="614.00" y="774.50" width="1.5" height="22.00" fill="#f03030"/><rect x="621.50" y="780.75" width="1.5" height="15.75" fill="#f03030"/><rect x="629.00" y="788.25" width="1.5" height="8.25" fill="#f03030"/><rect x="636.50" y="794.00" width="1.5" height="2.50" fill="#f03030"/><rect x="644.00" y="796.50" width="1.5" height="1.75" fill="#48e4ec"/><rect x="651.50" y="796.50" width="1.5" height="6.00" fill="#48e4ec"/><rect x="657.50" y="796.50" width="1.5" height="18.50" fill="#48e4ec"/><rect x="665.00" y="796.50" width="1.5" height="20.00" fill="#48e4ec"/><rect x="672.50" y="796.50" width="1.5" height="21.00" fill="#48e4ec"/><rect x="680.00" y="796.50" width="1.5" height="18.00" fill="#48e4ec"/><rect x="687.50" y="796.50" width="1.5" height="13.50" fill="#48e4ec"/><rect x="695.00" y="796.50" width="1.5" height="9.25" fill="#48e4ec"/><rect x="701.00" y="796.50" width="1.5" height="6.00" fill="#48e4ec"/><rect x="708.50" y="796.50" width="1.5" height="9.25" fill="#48e4ec"/><rect x="716.00" y="796.50" width="1.5" height="12.25" fill="#48e4ec"/><rect x="723.50" y="796.50" width="1.5" height="9.25" fill="#48e4ec"/><rect x="731.00" y="796.50" width="1.5" height="11.00" fill="#48e4ec"/><rect x="738.50" y="796.50" width="1.5" height="12.25" fill="#48e4ec"/><rect x="746.00" y="796.50" width="1.5" height="14.25" fill="#48e4ec"/><rect x="752.00" y="796.50" width="1.5" height="28.50" fill="#48e4ec"/><rect x="759.50" y="796.50" width="1.5" height="34.25" fill="#48e4ec"/><rect x="767.00" y="796.50" width="1.5" height="40.50" fill="#48e4ec"/><rect x="774.50" y="796.50" width="1.5" height="40.50" fill="#48e4ec"/><rect x="782.00" y="796.50" width="1.5" height="40.50" fill="#48e4ec"/><rect x="789.50" y="796.50" width="1.5" height="40.50" fill="#48e4ec"/><rect x="795.50" y="796.50" width="1.5" height="40.50" fill="#48e4ec"/><rect x="803.00" y="796.50" width="1.5" height="40.50" fill="#48e4ec"/><rect x="810.50" y="796.50" width="1.5" height="30.50" fill="#48e4ec"/><rect x="818.00" y="796.50" width="1.5" height="30.50" fill="#48e4ec"/><rect x="825.50" y="796.50" width="1.5" height="25.50" fill="#48e4ec"/><rect x="833.00" y="796.50" width="1.5" height="23.00" fill="#48e4ec"/><rect x="839.00" y="796.50" width="1.5" height="23.00" fill="#48e4ec"/><rect x="846.50" y="796.50" width="1.5" height="18.50" fill="#48e4ec"/><rect x="854.00" y="796.50" width="1.5" height="4.75" fill="#48e4ec"/><rect x="861.50" y="791.25" width="1.5" height="5.25" fill="#f03030"/><rect x="869.00" y="787.75" width="1.5" height="8.75" fill="#f03030"/><rect x="876.50" y="778.75" width="1.5" height="17.75" fill="#f03030"/><rect x="882.50" y="772.75" width="1.5" height="23.75" fill="#f03030"/><rect x="890.00" y="771.25" width="1.5" height="25.25" fill="#f03030"/><rect x="897.50" y="772.75" width="1.5" height="23.75" fill="#f03030"/><rect x="905.00" y="774.50" width="1.5" height="22.00" fill="#f03030"/><rect x="912.50" y="777.00" width="1.5" height="19.50" fill="#f03030"/><rect x="920.00" y="772.75" width="1.5" height="23.75" fill="#f03030"/><rect x="927.50" y="766.50" width="1.5" height="30.00" fill="#f03030"/><rect x="933.50" y="756.25" width="1.5" height="40.25" fill="#f03030"/><rect x="941.00" y="753.25" width="1.5" height="43.25" fill="#f03030"/><rect x="948.50" y="755.00" width="1.5" height="41.50" fill="#f03030"/><rect x="956.00" y="757.50" width="1.5" height="39.00" fill="#f03030"/><rect x="963.50" y="762.00" width="1.5" height="34.50" fill="#f03030"/><rect x="971.00" y="765.00" width="1.5" height="31.50" fill="#f03030"/><rect x="977.00" y="774.50" width="1.5" height="22.00" fill="#f03030"/><rect x="984.50" y="789.50" width="1.5" height="7.00" fill="#f03030"/><rect x="992.00" y="796.50" width="1.5" height="3.00" fill="#48e4ec"/><rect x="999.50" y="796.50" width="1.5" height="15.00" fill="#48e4ec"/><rect x="1007.00" y="796.50" width="1.5" height="10.50" fill="#48e4ec"/><rect x="1014.50" y="796.50" width="1.5" height="12.25" fill="#48e4ec"/><rect x="1020.50" y="796.50" width="1.5" height="6.00" fill="#48e4ec"/><rect x="1028.00" y="796.50" width="1.5" height="1.75" fill="#48e4ec"/><rect x="1043.00" y="795.75" width="1.5" height="0.75" fill="#f03030"/><rect x="1050.50" y="796.50" width="1.5" height="3.00" fill="#48e4ec"/><rect x="1058.00" y="796.50" width="1.5" height="7.50" fill="#48e4ec"/><rect x="1064.00" y="796.50" width="1.5" height="15.00" fill="#48e4ec"/><rect x="1071.50" y="796.50" width="1.5" height="13.50" fill="#48e4ec"/><rect x="1079.00" y="796.50" width="1.5" height="7.50" fill="#48e4ec"/><rect x="1086.50" y="796.50" width="1.5" height="6.00" fill="#48e4ec"/><rect x="1094.00" y="796.50" width="1.5" height="1.75" fill="#48e4ec"/><rect x="1109.00" y="786.25" width="1.5" height="10.25" fill="#f03030"/><rect x="1115.00" y="782.00" width="1.5" height="14.50" fill="#f03030"/><rect x="1122.50" y="778.75" width="1.5" height="17.75" fill="#f03030"/><rect x="1130.00" y="782.00" width="1.5" height="14.50" fill="#f03030"/><rect x="1137.50" y="786.25" width="1.5" height="10.25" fill="#f03030"/><rect x="1145.00" y="789.50" width="1.5" height="7.00" fill="#f03030"/><rect x="1152.50" y="787.75" width="1.5" height="8.75" fill="#f03030"/><rect x="1158.50" y="792.50" width="1.5" height="4.00" fill="#f03030"/><rect x="1181.00" y="796.50" width="1.5" height="4.25" fill="#48e4ec"/><rect x="1188.50" y="796.50" width="1.5" height="6.00" fill="#48e4ec"/><rect x="1196.00" y="796.50" width="1.5" height="9.25" fill="#48e4ec"/><rect x="1202.00" y="796.50" width="1.5" height="4.75" fill="#48e4ec"/><rect x="1209.50" y="796.50" width="1.5" height="3.00" fill="#48e4ec"/><rect x="1217.00" y="796.50" width="1.5" height="4.75" fill="#48e4ec"/><rect x="1232.00" y="789.50" width="1.5" height="7.00" fill="#f03030"/><rect x="1239.50" y="785.00" width="1.5" height="11.50" fill="#f03030"/><rect x="1245.50" y="772.75" width="1.5" height="23.75" fill="#f03030"/><rect x="1253.00" y="768.25" width="1.5" height="28.25" fill="#f03030"/><rect x="1260.50" y="763.75" width="1.5" height="32.75" fill="#f03030"/><rect x="1268.00" y="765.00" width="1.5" height="31.50" fill="#f03030"/><rect x="1275.50" y="763.75" width="1.5" height="32.75" fill="#f03030"/><rect x="1283.00" y="777.00" width="1.5" height="19.50" fill="#f03030"/><rect x="1290.50" y="786.25" width="1.5" height="10.25" fill="#f03030"/><rect x="1296.50" y="790.75" width="1.5" height="5.75" fill="#f03030"/><rect x="1304.00" y="796.50" width="1.5" height="15.00" fill="#48e4ec"/><rect x="1311.50" y="796.50" width="1.5" height="24.25" fill="#48e4ec"/><rect x="1319.00" y="796.50" width="1.5" height="35.00" fill="#48e4ec"/><rect x="1326.50" y="796.50" width="1.5" height="40.50" fill="#48e4ec"/><rect x="1334.00" y="796.50" width="1.5" height="40.50" fill="#48e4ec"/><rect x="1340.00" y="796.50" width="1.5" height="48.00" fill="#48e4ec"/><rect x="1347.50" y="796.50" width="1.5" height="40.50" fill="#48e4ec"/><rect x="1355.00" y="796.50" width="1.5" height="21.00" fill="#48e4ec"/><rect x="1362.50" y="796.50" width="1.5" height="13.50" fill="#48e4ec"/><rect x="1370.00" y="796.50" width="1.5" height="7.50" fill="#48e4ec"/><rect x="1377.50" y="796.50" width="1.5" height="1.75" fill="#48e4ec"/><rect x="1391.00" y="796.50" width="1.5" height="3.00" fill="#48e4ec"/><rect x="1398.50" y="796.50" width="1.5" height="1.75" fill="#48e4ec"/><rect x="1406.00" y="794.50" width="1.5" height="2.00" fill="#f03030"/><rect x="1413.50" y="789.50" width="1.5" height="7.00" fill="#f03030"/><rect x="1421.00" y="777.50" width="1.5" height="19.00" fill="#f03030"/><rect x="1427.00" y="771.25" width="1.5" height="25.25" fill="#f03030"/><rect x="1434.50" y="769.50" width="1.5" height="27.00" fill="#f03030"/><rect x="1442.00" y="771.25" width="1.5" height="25.25" fill="#f03030"/></g>
<polyline fill="none" stroke="#e6e600" stroke-width="1.4" stroke-linejoin="round" clip-path="url(#cd)" points="6.0,787.0 15.0,781.5 25.0,778.2 40.0,773.2 55.0,767.0 70.0,760.8 85.0,754.0 100.0,750.8 110.0,753.2 125.0,756.5 137.5,762.0 152.5,775.8 162.5,793.2 175.0,810.8 187.5,824.5 200.0,831.5 212.5,834.5 237.5,835.0 262.5,830.8 280.0,824.5 300.0,819.0 320.0,815.8 332.5,813.2 345.0,818.2 360.0,824.5 375.0,830.8 391.0,834.0 404.8,836.5 416.0,835.0 431.0,832.0 451.0,833.2 466.0,834.5 481.0,835.8 493.5,834.5 516.0,834.0 538.5,829.5 556.0,822.0 576.0,812.0 596.0,803.2 613.5,796.5 626.0,792.8 638.5,792.5 651.0,794.5 666.0,799.0 681.0,804.0 701.0,808.2 721.0,811.5 738.5,814.5 740.0,815.0 755.0,823.2 775.0,834.5 795.0,849.5 815.0,862.0 835.0,870.8 852.5,875.0 867.5,874.0 885.0,867.0 905.0,858.2 925.0,848.2 940.0,838.2 957.5,825.8 975.0,817.5 985.0,815.8 995.0,817.5 1012.5,821.5 1027.5,823.2 1042.5,821.2 1057.5,823.2 1075.0,828.2 1090.0,830.0 1100.0,829.0 1115.0,824.5 1130.0,820.8 1150.0,818.2 1175.0,819.0 1200.0,820.8 1220.0,822.5 1237.5,819.5 1255.0,811.5 1270.0,802.5 1282.5,797.0 1297.5,796.2 1310.0,800.8 1325.0,809.5 1340.0,820.8 1350.0,826.5 1362.5,831.5 1375.0,833.2 1385.0,832.0 1395.0,834.0 1407.5,832.5 1420.0,828.2 1432.5,823.2 1441.2,819.5"/>
<polyline fill="none" stroke="#ffffff" stroke-width="1.25" stroke-linejoin="round" clip-path="url(#cd)" points="6.0,772.0 15.0,770.0 25.0,767.0 40.0,762.0 55.0,756.5 65.0,748.2 75.0,743.2 85.0,741.5 95.0,743.2 105.0,751.5 115.0,760.8 128.8,768.2 140.0,783.2 150.0,804.5 160.0,832.0 170.0,848.2 180.0,854.5 192.5,849.5 205.0,840.0 215.0,838.2 225.0,835.8 240.0,835.0 250.0,831.5 262.5,825.8 272.5,818.2 280.0,814.0 295.0,812.0 312.5,811.5 320.0,810.8 332.5,811.2 338.8,819.5 345.0,827.0 355.0,833.2 365.0,839.0 375.0,840.0 391.0,840.8 404.8,840.8 413.5,834.5 423.5,827.5 433.5,827.5 443.5,832.0 453.5,835.8 466.0,837.0 476.0,839.5 488.5,834.0 513.5,834.0 523.5,828.2 533.5,825.8 546.0,814.5 561.0,805.0 576.0,798.2 586.0,794.5 596.0,794.0 606.0,787.0 614.8,783.8 622.2,785.8 631.0,789.5 643.5,793.2 651.0,798.2 658.5,805.8 668.5,809.5 678.5,814.0 691.0,810.8 703.5,811.5 716.0,816.5 731.0,817.5 741.0,820.8 740.0,820.8 747.5,828.2 755.0,837.0 770.0,850.8 785.0,862.0 805.0,876.5 812.5,875.0 825.0,879.0 840.0,883.2 847.5,883.5 857.5,872.0 870.0,864.5 885.0,854.0 897.5,848.2 912.5,846.5 925.0,834.5 940.0,817.0 947.5,811.5 960.0,806.5 970.0,803.2 980.0,808.2 990.0,817.0 1000.0,825.8 1012.5,827.5 1025.0,824.5 1035.0,821.2 1045.0,822.0 1055.0,827.0 1065.0,833.2 1072.5,835.0 1085.0,832.5 1097.5,829.5 1100.0,828.2 1110.0,820.0 1122.5,815.0 1140.0,815.0 1152.5,813.2 1165.0,816.5 1177.5,820.0 1195.0,825.8 1207.5,823.2 1217.5,824.0 1227.5,818.2 1237.5,812.0 1250.0,800.8 1262.5,790.0 1275.0,783.8 1285.0,788.2 1297.5,793.2 1305.0,804.5 1315.0,819.5 1325.0,833.2 1332.5,837.0 1340.0,844.5 1347.5,847.0 1357.5,840.0 1370.0,835.8 1382.5,831.5 1392.5,834.5 1400.0,833.2 1412.5,827.0 1420.0,818.2 1430.0,810.0 1441.2,806.2"/>
<path d="M2,447 L15,463.5 V508.7 L2,527 Z" fill="#3c3c3c" stroke="#6a6a6a" stroke-width="1.2"/>
<path d="M3.6,478.8 L11,486 L3.6,493.3 Z" fill="#e8a000"/>
<rect x="-10" y="-10" width="1524" height="10.1" fill="#d3d3d3"/>
<rect x="-10" y="0" width="1524" height="10" fill="url(#tg)"/>
<rect x="580.5" y="0" width="58" height="5.8" fill="#dedede"/><rect x="580.5" y="0" width="1.3" height="5.8" fill="#f8f8f8"/><rect x="637.5" y="0" width="1.2" height="5.8" fill="#b0b0b0"/>
<rect x="647.7" y="0" width="58.5" height="5.8" fill="#dedede"/><rect x="647.7" y="0" width="1.3" height="5.8" fill="#f8f8f8"/><rect x="705" y="0" width="1.2" height="5.8" fill="#b0b0b0"/>
<rect x="-10" y="-10" width="12.2" height="903" fill="#ececec"/>
<path d="M1497.5,-2 Q1498.5,3.2 1506,4" fill="#e2e2e2" stroke="#9c9c9c" stroke-width="1.3"/>
</g></svg>
</body></html>
